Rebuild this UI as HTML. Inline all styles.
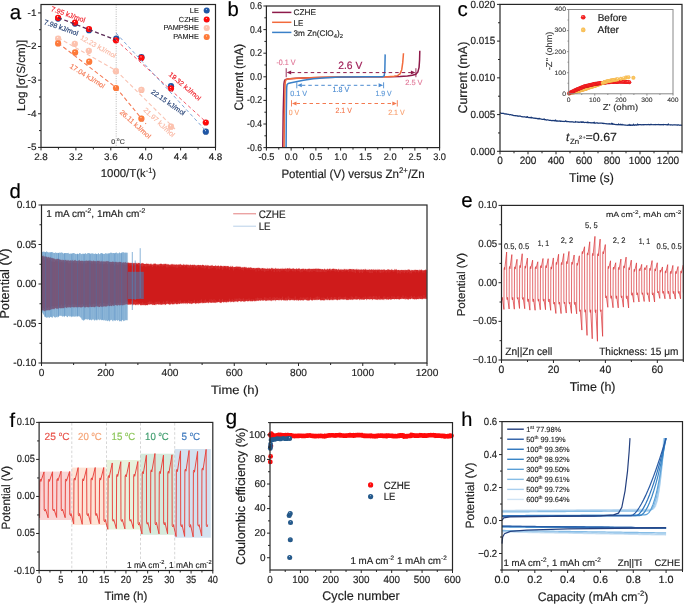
<!DOCTYPE html>
<html><head><meta charset="utf-8"><title>Figure</title>
<style>html,body{margin:0;padding:0;background:#fff;}body{width:685px;height:604px;overflow:hidden;font-family:"Liberation Sans", sans-serif;}svg{display:block;will-change:transform;text-rendering:geometricPrecision;}</style>
</head><body>
<svg width="685" height="604" viewBox="0 0 685 604" text-rendering="geometricPrecision" font-family='"Liberation Sans", sans-serif'><defs>
<radialGradient id="sR" cx="0.5" cy="0.5" r="0.55" fx="0.42" fy="0.3"><stop offset="0" stop-color="#ffe0e0"/><stop offset="0.28" stop-color="#ff0a0a"/><stop offset="0.8" stop-color="#ff0a0a"/><stop offset="1" stop-color="#c80010"/></radialGradient>
<radialGradient id="sB" cx="0.5" cy="0.5" r="0.55" fx="0.42" fy="0.3"><stop offset="0" stop-color="#d0e0f4"/><stop offset="0.28" stop-color="#1f56a6"/><stop offset="0.8" stop-color="#1f56a6"/><stop offset="1" stop-color="#103a78"/></radialGradient>
<radialGradient id="sL" cx="0.5" cy="0.5" r="0.55" fx="0.42" fy="0.3"><stop offset="0" stop-color="#fff4f0"/><stop offset="0.28" stop-color="#fdc2ae"/><stop offset="0.8" stop-color="#fdc2ae"/><stop offset="1" stop-color="#f4a890"/></radialGradient>
<radialGradient id="sO" cx="0.5" cy="0.5" r="0.55" fx="0.42" fy="0.3"><stop offset="0" stop-color="#ffe8d8"/><stop offset="0.28" stop-color="#ff7a38"/><stop offset="0.8" stop-color="#ff7a38"/><stop offset="1" stop-color="#e85a1a"/></radialGradient>
<radialGradient id="sY" cx="0.5" cy="0.5" r="0.55" fx="0.42" fy="0.3"><stop offset="0" stop-color="#fff2d0"/><stop offset="0.28" stop-color="#f9c25a"/><stop offset="0.8" stop-color="#f9c25a"/><stop offset="1" stop-color="#eaa030"/></radialGradient>
<radialGradient id="sR2" cx="0.5" cy="0.5" r="0.55" fx="0.42" fy="0.3"><stop offset="0" stop-color="#ffc8c8"/><stop offset="0.28" stop-color="#f42020"/><stop offset="0.8" stop-color="#f42020"/><stop offset="1" stop-color="#c80010"/></radialGradient>
<radialGradient id="sG" cx="0.5" cy="0.5" r="0.55" fx="0.42" fy="0.3"><stop offset="0" stop-color="#d0e0f0"/><stop offset="0.28" stop-color="#245a8c"/><stop offset="0.8" stop-color="#245a8c"/><stop offset="1" stop-color="#143c66"/></radialGradient>
</defs>
<text x="9.68" y="18.5" font-size="20.5" text-anchor="start" fill="#000" stroke="#000" stroke-width="0.18" stroke-linejoin="round" >a</text>
<line x1="116.2" y1="4.5" x2="116.2" y2="147.4" stroke="#b0b0b0" stroke-width="0.9" stroke-dasharray="1,1.3"/>
<text x="111.23" y="143.5" font-size="6.8" text-anchor="start" fill="#333" textLength="13.54" lengthAdjust="spacingAndGlyphs" stroke="#333" stroke-width="0.12" stroke-linejoin="round" >0 <tspan dy="-2.5" font-size="4.5">o</tspan><tspan dy="2.5">C</tspan></text>
<circle cx="58.1" cy="38.5" r="3.1" fill="url(#sL)"/>
<circle cx="74.8" cy="43.8" r="3.1" fill="url(#sL)"/>
<circle cx="88.8" cy="50.8" r="3.1" fill="url(#sL)"/>
<circle cx="115.9" cy="71.2" r="3.1" fill="url(#sL)"/>
<circle cx="141.4" cy="89.9" r="3.1" fill="url(#sL)"/>
<circle cx="171" cy="126.7" r="3.1" fill="url(#sL)"/>
<circle cx="58.1" cy="43.4" r="3.1" fill="url(#sO)"/>
<circle cx="75.1" cy="52.4" r="3.1" fill="url(#sO)"/>
<circle cx="89.2" cy="61.7" r="3.1" fill="url(#sO)"/>
<circle cx="116" cy="88" r="3.1" fill="url(#sO)"/>
<circle cx="141.4" cy="118.7" r="3.1" fill="url(#sO)"/>
<circle cx="58.1" cy="18.6" r="3.1" fill="url(#sB)"/>
<circle cx="75" cy="23.6" r="3.1" fill="url(#sB)"/>
<circle cx="89" cy="30.2" r="3.1" fill="url(#sB)"/>
<circle cx="116.3" cy="38.6" r="3.1" fill="url(#sB)"/>
<circle cx="141.4" cy="57.2" r="3.1" fill="url(#sB)"/>
<circle cx="171" cy="86.2" r="3.1" fill="url(#sB)"/>
<circle cx="205.8" cy="131.7" r="3.1" fill="url(#sB)"/>
<circle cx="58.1" cy="17.8" r="3.1" fill="url(#sR)"/>
<circle cx="75" cy="22.6" r="3.1" fill="url(#sR)"/>
<circle cx="89" cy="29" r="3.1" fill="url(#sR)"/>
<circle cx="115.9" cy="40.3" r="3.1" fill="url(#sR)"/>
<circle cx="141.4" cy="57.9" r="3.1" fill="url(#sR)"/>
<circle cx="171" cy="88.4" r="3.1" fill="url(#sR)"/>
<circle cx="205.8" cy="122.5" r="3.1" fill="url(#sR)"/>
<line x1="58.1" y1="37.8" x2="116" y2="70.5" stroke="#f9c3b3" stroke-width="1.1" stroke-dasharray="4,2.6"/>
<line x1="116" y1="70.5" x2="175" y2="129" stroke="#f9c3b3" stroke-width="1.1" stroke-dasharray="4,2.6"/>
<line x1="58.1" y1="43" x2="116" y2="87.5" stroke="#f47a55" stroke-width="1.1" stroke-dasharray="4,2.6"/>
<line x1="116" y1="87.5" x2="146" y2="124" stroke="#f47a55" stroke-width="1.1" stroke-dasharray="4,2.6"/>
<line x1="58.1" y1="17.6" x2="116" y2="40" stroke="#5a2a55" stroke-width="1.3" stroke-dasharray="4,2.6"/>
<line x1="116" y1="40" x2="206" y2="122" stroke="#f25868" stroke-width="1.0" stroke-dasharray="3.5,2.6"/>
<line x1="116" y1="33" x2="206" y2="131" stroke="#7ea4d6" stroke-width="1.0" stroke-dasharray="3.5,2.6"/>
<text x="50.5" y="10.7" font-size="7.0" fill="#f0202a" stroke="#f0202a" stroke-width="0.15" stroke-linejoin="round" transform="rotate(19.6 50.5 10.7)">7.95 kJ/mol</text>
<text x="43.5" y="23.9" font-size="7.0" fill="#1f3c72" stroke="#1f3c72" stroke-width="0.15" stroke-linejoin="round" transform="rotate(19.6 43.5 23.9)">7.98 kJ/mol</text>
<text x="79.7" y="39.1" font-size="7.0" fill="#f9b8a4" stroke="#f9b8a4" stroke-width="0.15" stroke-linejoin="round" transform="rotate(28.9 79.7 39.1)">12.23 kJ/mol</text>
<text x="69.3" y="67.5" font-size="7.0" fill="#f47a55" stroke="#f47a55" stroke-width="0.15" stroke-linejoin="round" transform="rotate(32 69.3 67.5)">17.04 kJ/mol</text>
<text x="168.2" y="75.3" font-size="7.0" fill="#f0202a" stroke="#f0202a" stroke-width="0.15" stroke-linejoin="round" transform="rotate(40.2 168.2 75.3)">19.32 kJ/mol</text>
<text x="150.6" y="93" font-size="7.0" fill="#1f3c72" stroke="#1f3c72" stroke-width="0.15" stroke-linejoin="round" transform="rotate(35 150.6 93)">22.15 kJ/mol</text>
<text x="119.2" y="112.9" font-size="7.0" fill="#f47a55" stroke="#f47a55" stroke-width="0.15" stroke-linejoin="round" transform="rotate(41.7 119.2 112.9)">26.11 kJ/mol</text>
<text x="143" y="110.6" font-size="7.0" fill="#f9b8a4" stroke="#f9b8a4" stroke-width="0.15" stroke-linejoin="round" transform="rotate(42.8 143 110.6)">21.97 kJ/mol</text>
<text x="198.8" y="13.3" font-size="7.3" text-anchor="end" fill="#1e1e1e" textLength="8.96" lengthAdjust="spacingAndGlyphs" stroke="#1e1e1e" stroke-width="0.13" stroke-linejoin="round" >LE</text>
<circle cx="206.7" cy="10.5" r="3.0" fill="url(#sB)"/>
<text x="198.8" y="21.9" font-size="7.3" text-anchor="end" fill="#1e1e1e" textLength="19.95" lengthAdjust="spacingAndGlyphs" stroke="#1e1e1e" stroke-width="0.13" stroke-linejoin="round" >CZHE</text>
<circle cx="206.7" cy="19.4" r="3.0" fill="url(#sR)"/>
<text x="198.8" y="30.2" font-size="7.3" text-anchor="end" fill="#1e1e1e" textLength="35.29" lengthAdjust="spacingAndGlyphs" stroke="#1e1e1e" stroke-width="0.13" stroke-linejoin="round" >PAMPSHE</text>
<circle cx="206.7" cy="28.1" r="3.0" fill="url(#sL)"/>
<text x="198.8" y="38.8" font-size="7.3" text-anchor="end" fill="#1e1e1e" textLength="25.51" lengthAdjust="spacingAndGlyphs" stroke="#1e1e1e" stroke-width="0.13" stroke-linejoin="round" >PAMHE</text>
<circle cx="206.7" cy="37" r="3.0" fill="url(#sO)"/>
<rect x="41" y="4.5" width="174.5" height="142.9" fill="none" stroke="#262626" stroke-width="1.2"/>
<path d="M41 147.4v3M75.9 147.4v3M110.8 147.4v3M145.7 147.4v3M180.6 147.4v3M215.5 147.4v3M58.45 147.4v2M93.35 147.4v2M128.25 147.4v2M163.15 147.4v2M198.05 147.4v2" stroke="#262626" stroke-width="1.0" fill="none"/>
<text x="41" y="159.6" font-size="9.7" text-anchor="middle" fill="#1e1e1e" textLength="13.69" lengthAdjust="spacingAndGlyphs" stroke="#1e1e1e" stroke-width="0.17" stroke-linejoin="round" >2.8</text>
<text x="75.9" y="159.6" font-size="9.7" text-anchor="middle" fill="#1e1e1e" textLength="13.69" lengthAdjust="spacingAndGlyphs" stroke="#1e1e1e" stroke-width="0.17" stroke-linejoin="round" >3.2</text>
<text x="110.8" y="159.6" font-size="9.7" text-anchor="middle" fill="#1e1e1e" textLength="13.69" lengthAdjust="spacingAndGlyphs" stroke="#1e1e1e" stroke-width="0.17" stroke-linejoin="round" >3.6</text>
<text x="145.7" y="159.6" font-size="9.7" text-anchor="middle" fill="#1e1e1e" textLength="13.69" lengthAdjust="spacingAndGlyphs" stroke="#1e1e1e" stroke-width="0.17" stroke-linejoin="round" >4.0</text>
<text x="180.6" y="159.6" font-size="9.7" text-anchor="middle" fill="#1e1e1e" textLength="13.69" lengthAdjust="spacingAndGlyphs" stroke="#1e1e1e" stroke-width="0.17" stroke-linejoin="round" >4.4</text>
<text x="215.5" y="159.6" font-size="9.7" text-anchor="middle" fill="#1e1e1e" textLength="13.69" lengthAdjust="spacingAndGlyphs" stroke="#1e1e1e" stroke-width="0.17" stroke-linejoin="round" >4.8</text>
<path d="M41 12.91h-3M41 46.53h-3M41 80.15h-3M41 113.78h-3M41 147.4h-3M41 29.72h-2M41 63.34h-2M41 96.96h-2M41 130.59h-2" stroke="#262626" stroke-width="1.0" fill="none"/>
<text x="36.47" y="15.81" font-size="9.3" text-anchor="end" fill="#1e1e1e" textLength="8.84" lengthAdjust="spacingAndGlyphs" stroke="#1e1e1e" stroke-width="0.17" stroke-linejoin="round" >-1</text>
<text x="36.47" y="49.43" font-size="9.3" text-anchor="end" fill="#1e1e1e" textLength="8.84" lengthAdjust="spacingAndGlyphs" stroke="#1e1e1e" stroke-width="0.17" stroke-linejoin="round" >-2</text>
<text x="36.47" y="83.05" font-size="9.3" text-anchor="end" fill="#1e1e1e" textLength="8.84" lengthAdjust="spacingAndGlyphs" stroke="#1e1e1e" stroke-width="0.17" stroke-linejoin="round" >-3</text>
<text x="36.47" y="116.68" font-size="9.3" text-anchor="end" fill="#1e1e1e" textLength="8.84" lengthAdjust="spacingAndGlyphs" stroke="#1e1e1e" stroke-width="0.17" stroke-linejoin="round" >-4</text>
<text x="36.47" y="150.3" font-size="9.3" text-anchor="end" fill="#1e1e1e" textLength="8.84" lengthAdjust="spacingAndGlyphs" stroke="#1e1e1e" stroke-width="0.17" stroke-linejoin="round" >-5</text>
<text x="100.74" y="177.4" font-size="11.4" text-anchor="start" fill="#1e1e1e" textLength="55.43" lengthAdjust="spacingAndGlyphs" stroke="#1e1e1e" stroke-width="0.18" stroke-linejoin="round" >1000/T(k<tspan dy="-4.5" font-size="7.5">-1</tspan><tspan dy="4.5">)</tspan></text>
<text transform="translate(24.9,110.96) rotate(-90)" font-size="11.6" text-anchor="start" fill="#1e1e1e" textLength="70.84" lengthAdjust="spacingAndGlyphs" stroke="#1e1e1e" stroke-width="0.18" stroke-linejoin="round" >Log [σ(S/cm)]</text>
<text x="227.58" y="16.4" font-size="20.3" text-anchor="start" fill="#000" stroke="#000" stroke-width="0.18" stroke-linejoin="round" >b</text>
<polyline points="282.78,147.6 283.23,112.2 283.97,83.88 284.46,80.93 285.2,79.75 287.68,78.92 296.09,78.33 310.94,77.63 335.68,77.15 365.37,76.8 390.11,76.68 400.01,76.45 407.43,75.97 412.38,75.27 415.85,74.2 417.83,72.08 419.06,67.36 419.56,60.28 419.81,50.84" fill="none" stroke="#8e1a4a" stroke-width="1.5" stroke-linejoin="round" />
<polyline points="284.07,147.6 284.46,112.2 285.11,83.88 285.55,80.34 286.44,79.4 289.16,78.81 298.57,78.22 320.83,77.27 350.53,76.8 387.64,76.68 394.07,76.33 397.54,75.62 400.01,73.85 401.74,69.72 402.73,62.64 403.48,53.2" fill="none" stroke="#f26a3c" stroke-width="1.5" stroke-linejoin="round" />
<polyline points="286.1,147.6 286.34,112.2 286.69,87.42 287.09,84.47 288.17,83.53 291.14,82.7 296.09,81.76 303.51,80.34 313.41,78.69 325.78,77.63 340.63,77.04 365.37,76.8 382.69,76.68 384.18,75.86 384.82,70.9 385.17,54.38" fill="none" stroke="#3a80c8" stroke-width="1.5" stroke-linejoin="round" />
<line x1="291.2" y1="72.6" x2="410.9" y2="72.6" stroke="#8e1a4a" stroke-width="1" stroke-dasharray="3.5,3"/>
<line x1="286.2" y1="68.2" x2="286.2" y2="77.2" stroke="#8e1a4a" stroke-width="0.9"/>
<path d="M286.7 72.6 l4.5 -2 v4z" fill="#8e1a4a"/>
<line x1="415.9" y1="68.2" x2="415.9" y2="77.2" stroke="#8e1a4a" stroke-width="0.9"/>
<path d="M415.4 72.6 l-4.5 -2 v4z" fill="#8e1a4a"/>
<line x1="301.8" y1="85.3" x2="378.6" y2="85.3" stroke="#4a8ad0" stroke-width="1" stroke-dasharray="3.5,3"/>
<line x1="296.8" y1="82.3" x2="296.8" y2="88.3" stroke="#4a8ad0" stroke-width="0.9"/>
<path d="M297.3 85.3 l4.5 -2 v4z" fill="#4a8ad0"/>
<line x1="383.6" y1="82.3" x2="383.6" y2="88.3" stroke="#4a8ad0" stroke-width="0.9"/>
<path d="M383.1 85.3 l-4.5 -2 v4z" fill="#4a8ad0"/>
<line x1="296.5" y1="103.5" x2="392.3" y2="103.5" stroke="#f47a50" stroke-width="1" stroke-dasharray="3.5,3"/>
<line x1="291.5" y1="100.2" x2="291.5" y2="106.5" stroke="#f47a50" stroke-width="0.9"/>
<path d="M292 103.5 l4.5 -2 v4z" fill="#f47a50"/>
<line x1="397.3" y1="100.2" x2="397.3" y2="106.5" stroke="#f47a50" stroke-width="0.9"/>
<path d="M396.8 103.5 l-4.5 -2 v4z" fill="#f47a50"/>
<text x="276.49" y="65.2" font-size="7.8" text-anchor="start" fill="#e07898" textLength="18.9" lengthAdjust="spacingAndGlyphs" stroke="#e07898" stroke-width="0.14" stroke-linejoin="round" >-0.1 V</text>
<text x="338.28" y="69.4" font-size="10.6" text-anchor="start" fill="#a02058" textLength="24.08" lengthAdjust="spacingAndGlyphs" stroke="#a02058" stroke-width="0.18" stroke-linejoin="round" >2.6 V</text>
<text x="405.2" y="84.6" font-size="7.6" text-anchor="start" fill="#e07898" textLength="17.39" lengthAdjust="spacingAndGlyphs" stroke="#e07898" stroke-width="0.14" stroke-linejoin="round" >2.5 V</text>
<text x="290.3" y="96.1" font-size="7.6" text-anchor="start" fill="#5a96d6" textLength="16.89" lengthAdjust="spacingAndGlyphs" stroke="#5a96d6" stroke-width="0.14" stroke-linejoin="round" >0.1 V</text>
<text x="332.5" y="92.4" font-size="7.6" text-anchor="start" fill="#4a8ad0" textLength="16.69" lengthAdjust="spacingAndGlyphs" stroke="#4a8ad0" stroke-width="0.14" stroke-linejoin="round" >1.8 V</text>
<text x="375.4" y="96.2" font-size="7.6" text-anchor="start" fill="#5a96d6" textLength="16.19" lengthAdjust="spacingAndGlyphs" stroke="#5a96d6" stroke-width="0.14" stroke-linejoin="round" >1.9 V</text>
<text x="288.7" y="114.8" font-size="7.6" text-anchor="start" fill="#f8a070" textLength="10.39" lengthAdjust="spacingAndGlyphs" stroke="#f8a070" stroke-width="0.14" stroke-linejoin="round" >0 V</text>
<text x="335.5" y="113.1" font-size="7.6" text-anchor="start" fill="#f47a50" textLength="16.29" lengthAdjust="spacingAndGlyphs" stroke="#f47a50" stroke-width="0.14" stroke-linejoin="round" >2.1 V</text>
<text x="388.2" y="114.8" font-size="7.6" text-anchor="start" fill="#f8a070" textLength="16.49" lengthAdjust="spacingAndGlyphs" stroke="#f8a070" stroke-width="0.14" stroke-linejoin="round" >2.1 V</text>
<line x1="272.1" y1="12.4" x2="291.4" y2="12.4" stroke="#8e1a4a" stroke-width="1.5"/>
<line x1="272.1" y1="22.3" x2="291.4" y2="22.3" stroke="#f26a3c" stroke-width="1.5"/>
<line x1="272.1" y1="32.4" x2="291.4" y2="32.4" stroke="#3a80c8" stroke-width="1.5"/>
<text x="293.57" y="15.3" font-size="8.2" text-anchor="start" fill="#1e1e1e" textLength="22.52" lengthAdjust="spacingAndGlyphs" stroke="#1e1e1e" stroke-width="0.15" stroke-linejoin="round" >CZHE</text>
<text x="293.57" y="25.6" font-size="8.2" text-anchor="start" fill="#1e1e1e" textLength="9.82" lengthAdjust="spacingAndGlyphs" stroke="#1e1e1e" stroke-width="0.15" stroke-linejoin="round" >LE</text>
<text x="293.57" y="35.5" font-size="8.2" text-anchor="start" fill="#1e1e1e" textLength="49.32" lengthAdjust="spacingAndGlyphs" stroke="#1e1e1e" stroke-width="0.15" stroke-linejoin="round" >3m Zn(ClO<tspan dy="2" font-size="5.8">4</tspan><tspan dy="-2">)</tspan><tspan dy="2" font-size="5.8">2</tspan></text>
<rect x="266.4" y="6" width="173.2" height="141.6" fill="none" stroke="#262626" stroke-width="1.2"/>
<path d="M266.4 147.6v3M291.14 147.6v3M315.89 147.6v3M340.63 147.6v3M365.37 147.6v3M390.11 147.6v3M414.86 147.6v3M439.6 147.6v3M278.77 147.6v2M303.51 147.6v2M328.26 147.6v2M353 147.6v2M377.74 147.6v2M402.49 147.6v2M427.23 147.6v2" stroke="#262626" stroke-width="1.0" fill="none"/>
<text x="266.4" y="160" font-size="9.7" text-anchor="middle" fill="#1e1e1e" textLength="15.91" lengthAdjust="spacingAndGlyphs" stroke="#1e1e1e" stroke-width="0.17" stroke-linejoin="round" >-0.5</text>
<text x="291.14" y="160" font-size="9.7" text-anchor="middle" fill="#1e1e1e" textLength="12.84" lengthAdjust="spacingAndGlyphs" stroke="#1e1e1e" stroke-width="0.17" stroke-linejoin="round" >0.0</text>
<text x="315.89" y="160" font-size="9.7" text-anchor="middle" fill="#1e1e1e" textLength="12.84" lengthAdjust="spacingAndGlyphs" stroke="#1e1e1e" stroke-width="0.17" stroke-linejoin="round" >0.5</text>
<text x="340.63" y="160" font-size="9.7" text-anchor="middle" fill="#1e1e1e" textLength="12.84" lengthAdjust="spacingAndGlyphs" stroke="#1e1e1e" stroke-width="0.17" stroke-linejoin="round" >1.0</text>
<text x="365.37" y="160" font-size="9.7" text-anchor="middle" fill="#1e1e1e" textLength="12.84" lengthAdjust="spacingAndGlyphs" stroke="#1e1e1e" stroke-width="0.17" stroke-linejoin="round" >1.5</text>
<text x="390.11" y="160" font-size="9.7" text-anchor="middle" fill="#1e1e1e" textLength="12.84" lengthAdjust="spacingAndGlyphs" stroke="#1e1e1e" stroke-width="0.17" stroke-linejoin="round" >2.0</text>
<text x="414.86" y="160" font-size="9.7" text-anchor="middle" fill="#1e1e1e" textLength="12.84" lengthAdjust="spacingAndGlyphs" stroke="#1e1e1e" stroke-width="0.17" stroke-linejoin="round" >2.5</text>
<text x="439.6" y="160" font-size="9.7" text-anchor="middle" fill="#1e1e1e" textLength="12.84" lengthAdjust="spacingAndGlyphs" stroke="#1e1e1e" stroke-width="0.17" stroke-linejoin="round" >3.0</text>
<path d="M266.4 147.6h-3M266.4 124h-3M266.4 100.4h-3M266.4 76.8h-3M266.4 53.2h-3M266.4 29.6h-3M266.4 6h-3M266.4 135.8h-2M266.4 112.2h-2M266.4 88.6h-2M266.4 65h-2M266.4 41.4h-2M266.4 17.8h-2" stroke="#262626" stroke-width="1.0" fill="none"/>
<text x="262" y="150.6" font-size="10" text-anchor="end" fill="#1e1e1e" textLength="15.01" lengthAdjust="spacingAndGlyphs" stroke="#1e1e1e" stroke-width="0.18" stroke-linejoin="round" >-0.6</text>
<text x="262" y="127" font-size="10" text-anchor="end" fill="#1e1e1e" textLength="15.01" lengthAdjust="spacingAndGlyphs" stroke="#1e1e1e" stroke-width="0.18" stroke-linejoin="round" >-0.4</text>
<text x="262" y="103.4" font-size="10" text-anchor="end" fill="#1e1e1e" textLength="15.01" lengthAdjust="spacingAndGlyphs" stroke="#1e1e1e" stroke-width="0.18" stroke-linejoin="round" >-0.2</text>
<text x="262" y="79.8" font-size="10" text-anchor="end" fill="#1e1e1e" textLength="12.11" lengthAdjust="spacingAndGlyphs" stroke="#1e1e1e" stroke-width="0.18" stroke-linejoin="round" >0.0</text>
<text x="262" y="56.2" font-size="10" text-anchor="end" fill="#1e1e1e" textLength="12.11" lengthAdjust="spacingAndGlyphs" stroke="#1e1e1e" stroke-width="0.18" stroke-linejoin="round" >0.2</text>
<text x="262" y="32.6" font-size="10" text-anchor="end" fill="#1e1e1e" textLength="12.11" lengthAdjust="spacingAndGlyphs" stroke="#1e1e1e" stroke-width="0.18" stroke-linejoin="round" >0.4</text>
<text x="262" y="9" font-size="10" text-anchor="end" fill="#1e1e1e" textLength="12.11" lengthAdjust="spacingAndGlyphs" stroke="#1e1e1e" stroke-width="0.18" stroke-linejoin="round" >0.6</text>
<text x="281.42" y="177.9" font-size="12.1" text-anchor="start" fill="#1e1e1e" textLength="143.17" lengthAdjust="spacingAndGlyphs" stroke="#1e1e1e" stroke-width="0.18" stroke-linejoin="round" >Potential (V) versus Zn<tspan dy="-4.8" font-size="8.2">2+</tspan><tspan dy="4.8">/Zn</tspan></text>
<text transform="translate(242.9,110.6) rotate(-90)" font-size="12.4" text-anchor="start" fill="#1e1e1e" textLength="66.69" lengthAdjust="spacingAndGlyphs" stroke="#1e1e1e" stroke-width="0.18" stroke-linejoin="round" >Current (mA)</text>
<text x="457.38" y="16" font-size="20.5" text-anchor="start" fill="#000" stroke="#000" stroke-width="0.18" stroke-linejoin="round" >c</text>
<polyline points="500,112.96 500.35,112.88 500.7,113 501.05,113.27 501.4,113.35 501.75,113.4 502.1,113.3 502.45,113.5 502.8,113.34 503.15,113.43 503.5,113.32 503.85,113.43 504.2,113.81 504.55,113.81 504.9,113.93 505.25,113.79 505.6,113.89 505.95,114.17 506.3,113.96 506.65,114.19 507,114.19 507.35,114.11 507.7,114.41 508.05,114.35 508.4,114.33 508.75,114.28 509.1,114.59 509.45,114.77 509.8,114.89 510.15,114.63 510.5,114.65 510.85,114.79 511.2,114.91 511.55,114.86 511.9,115.08 512.25,115.33 512.6,115.13 512.95,115.12 513.3,115.38 513.65,115.6 514,115.6 514.35,115.7 514.7,115.72 515.05,115.65 515.4,115.83 515.75,115.67 516.1,115.6 516.45,115.89 516.8,115.9 517.15,115.68 517.5,116.08 517.85,116.1 518.2,115.99 518.55,116.3 518.9,116.18 519.25,115.97 519.6,116.21 519.95,116.19 520.3,116.14 520.65,116.2 521,116.46 521.35,116.63 521.7,116.7 522.05,116.68 522.4,116.67 522.75,116.87 523.1,116.87 523.45,116.95 523.8,116.74 524.15,116.95 524.5,116.95 524.85,116.78 525.2,117 525.55,117.21 525.9,117.15 526.25,116.98 526.6,117.39 526.95,117.21 527.3,116.52 527.65,117.31 528,117.21 528.35,117.52 528.7,117.6 529.05,117.49 529.4,117.62 529.75,117.45 530.1,117.48 530.45,117.54 530.8,117.85 531.15,117.1 531.5,118.02 531.85,117.97 532.2,117.7 532.55,117.76 532.9,117.79 533.25,118.16 533.6,118.22 533.95,118.07 534.3,118.02 534.65,118.15 535,118.45 535.35,118.13 535.7,118.24 536.05,118.54 536.4,118.52 536.75,118.28 537.1,118.58 537.45,118.48 537.8,118.79 538.15,118.49 538.5,118.87 538.85,118.55 539.2,118.87 539.55,118.28 539.9,118.68 540.25,118.93 540.6,119.01 540.95,118.89 541.3,119.2 541.65,119.25 542,119.3 542.35,119.4 542.7,119.36 543.05,119.31 543.4,119.43 543.75,119.45 544.1,118.76 544.45,119.58 544.8,119.83 545.15,119.8 545.5,119.61 545.85,119.84 546.2,119.79 546.55,120.04 546.9,120.03 547.25,119.85 547.6,120 547.95,119.89 548.3,120.08 548.65,120.17 549,120.25 549.35,120.29 549.7,120.25 550.05,120.19 550.4,120.38 550.75,120.28 551.1,120.62 551.45,120.67 551.8,120.69 552.15,120.4 552.5,120.71 552.85,120.51 553.2,120.43 553.55,120.75 553.9,120.7 554.25,120.46 554.6,120.85 554.95,120.72 555.3,120.88 555.65,119.94 556,120.77 556.35,121.03 556.7,120.79 557.05,121.06 557.4,120.77 557.75,121.09 558.1,121.15 558.45,121.07 558.8,121.03 559.15,120.88 559.5,121.2 559.85,121.03 560.2,121.27 560.55,121.03 560.9,121.33 561.25,121.1 561.6,121.37 561.95,121.4 562.3,121.26 562.65,121.24 563,121.39 563.35,121.3 563.7,121.51 564.05,121.56 564.4,121.47 564.75,121.29 565.1,121.43 565.45,120.79 565.8,120.86 566.15,121.4 566.5,121.67 566.85,121.36 567.2,121.44 567.55,121.6 567.9,121.67 568.25,121.57 568.6,121.74 568.95,121.61 569.3,121.77 569.65,121.95 570,121.96 570.35,121.9 570.7,121.99 571.05,121.66 571.4,121.93 571.75,121.95 572.1,122.02 572.45,121.99 572.8,121.7 573.15,122.03 573.5,122.02 573.85,122.17 574.2,121.98 574.55,122.12 574.9,122.22 575.25,122.2 575.6,121.5 575.95,122.14 576.3,122.03 576.65,121.97 577,122 577.35,122.16 577.7,121.92 578.05,122.05 578.4,122.37 578.75,122.01 579.1,122.09 579.45,122.37 579.8,122.23 580.15,122.11 580.5,122.23 580.85,122.2 581.2,121.68 581.55,122.47 581.9,122.5 582.25,122.32 582.6,122.3 582.95,121.65 583.3,122.26 583.65,122.41 584,122.36 584.35,122.34 584.7,122.65 585.05,122.37 585.4,122.38 585.75,122.51 586.1,122.53 586.45,122.42 586.8,122.49 587.15,122.73 587.5,122.48 587.85,121.84 588.2,122.81 588.55,122.56 588.9,122.58 589.25,122.66 589.6,122.7 589.95,122.53 590.3,122.51 590.65,122.95 591,122.61 591.35,122.79 591.7,122.91 592.05,122.93 592.4,122.97 592.75,122.63 593.1,122.71 593.45,122.69 593.8,123 594.15,122.17 594.5,123.13 594.85,122.95 595.2,123.11 595.55,123.04 595.9,123.2 596.25,122.85 596.6,122.82 596.95,122.85 597.3,123.1 597.65,122.84 598,123.14 598.35,123.19 598.7,123.29 599.05,123.22 599.4,123.25 599.75,123.15 600.1,123.24 600.45,123.04 600.8,123.18 601.15,123.07 601.5,123.2 601.85,123.22 602.2,123.24 602.55,123.47 602.9,123.22 603.25,123.45 603.6,123.55 603.95,123.28 604.3,123.45 604.65,123.52 605,123.72 605.35,123.73 605.7,123.63 606.05,123.48 606.4,123.71 606.75,123.85 607.1,123.82 607.45,123.89 607.8,123.77 608.15,123.72 608.5,123.9 608.85,123.94 609.2,124.11 609.55,123.74 609.9,123.97 610.25,123.84 610.6,124.13 610.95,124.1 611.3,123.89 611.65,123.22 612,124.35 612.35,124 612.7,123.43 613.05,124.28 613.4,124.11 613.75,124.08 614.1,124.49 614.45,124.33 614.8,124.18 615.15,124.33 615.5,124.45 615.85,124.66 616.2,124.6 616.55,124.45 616.9,124.7 617.25,124.51 617.6,124.77 617.95,124.62 618.3,124.7 618.65,123.9 619,124.8 619.35,124.53 619.7,124.58 620.05,124.88 620.4,124.58 620.75,124.15 621.1,124.82 621.45,124.88 621.8,124.79 622.15,124.26 622.5,124.97 622.85,124.84 623.2,124.8 623.55,124.95 623.9,124.76 624.25,124.85 624.6,125.13 624.95,125.12 625.3,125.05 625.65,125.19 626,125.01 626.35,125.26 626.7,125.25 627.05,125.3 627.4,125.35 627.75,125 628.1,125.09 628.45,125.02 628.8,125.37 629.15,124.41 629.5,125.2 629.85,125.34 630.2,124.7 630.55,125.37 630.9,125.05 631.25,125.02 631.6,125.27 631.95,125.05 632.3,125.36 632.65,125.2 633,125.26 633.35,124.19 633.7,125.12 634.05,124.95 634.4,125.25 634.75,124.84 635.1,124.89 635.45,125.05 635.8,124.76 636.15,125.04 636.5,125 636.85,125.12 637.2,124.69 637.55,123.93 637.9,124.95 638.25,124.61 638.6,124.84 638.95,124.8 639.3,124.56 639.65,124.6 640,124.57 640.35,124.66 640.7,124.79 641.05,124.58 641.4,124.83 641.75,124.81 642.1,124.9 642.45,124.77 642.8,124.52 643.15,124.79 643.5,124.86 643.85,124.59 644.2,124.8 644.55,124.62 644.9,124.57 645.25,124.6 645.6,124.52 645.95,124.64 646.3,124.56 646.65,124.77 647,124.81 647.35,124.62 647.7,124.7 648.05,124.65 648.4,124.51 648.75,124.43 649.1,124.66 649.45,124.49 649.8,124.84 650.15,124.8 650.5,124.43 650.85,124.44 651.2,124.47 651.55,124.73 651.9,124.43 652.25,124.58 652.6,124.74 652.95,124.77 653.3,124.72 653.65,124.54 654,124.82 654.35,124.53 654.7,124.69 655.05,124.47 655.4,124.79 655.75,124.64 656.1,124.53 656.45,124.74 656.8,124.63 657.15,124.67 657.5,124.67 657.85,124.64 658.2,124.42 658.55,124.64 658.9,124.47 659.25,124.79 659.6,124.6 659.95,124.61 660.3,124.59 660.65,124.79 661,124.53 661.35,124.78 661.7,124.67 662.05,124.77 662.4,124.62 662.75,124.81 663.1,124.51 663.45,124.79 663.8,124.47 664.15,124.68 664.5,124.5 664.85,124.52 665.2,124.56 665.55,124.59 665.9,124.76 666.25,124.59 666.6,124.86 666.95,124.74 667.3,124.92 667.65,124.67 668,124.98 668.35,123.94 668.7,124.65 669.05,124.76 669.4,124.76 669.75,124.86 670.1,124.87 670.45,124.87 670.8,125.06 671.15,124.87 671.5,124.75 671.85,124.9 672.2,124.9 672.55,125.06 672.9,125.09 673.25,124.91 673.6,124.87 673.95,124.83 674.3,124.94 674.65,124.95 675,124.77 675.35,124.82 675.7,124.88 676.05,125.13 676.4,125.01 676.75,124.83 677.1,124.89 677.45,125.22 677.8,124.93 678.15,124.87 678.5,124.92 678.85,125.07 679.2,125.21 679.55,125.08 679.9,125.3 680.25,125.25 680.6,125.04 680.95,125.27 681.3,125.3 681.65,125.08 682,124.99" fill="none" stroke="#1a3a78" stroke-width="1.2" stroke-linejoin="round" />
<text x="566" y="141.4" font-size="11.7" text-anchor="start" fill="#1e1e1e" stroke="#1e1e1e" stroke-width="0.18" stroke-linejoin="round" ><tspan font-style="italic">t</tspan></text>
<text x="569.9" y="144.4" font-size="7.6" text-anchor="start" fill="#1e1e1e" textLength="9.19" lengthAdjust="spacingAndGlyphs" stroke="#1e1e1e" stroke-width="0.14" stroke-linejoin="round" >Zn</text>
<text x="578.71" y="138.8" font-size="4.8" text-anchor="start" fill="#1e1e1e" textLength="7.41" lengthAdjust="spacingAndGlyphs" stroke="#1e1e1e" stroke-width="0.09" stroke-linejoin="round" >2+</text>
<text x="585.53" y="141.4" font-size="11.7" text-anchor="start" fill="#1e1e1e" textLength="31.45" lengthAdjust="spacingAndGlyphs" stroke="#1e1e1e" stroke-width="0.18" stroke-linejoin="round" >=0.67</text>
<rect x="568.7" y="9.5" width="104.3" height="84.3" fill="#fff"/>
<circle cx="569.22" cy="93.59" r="2.0" fill="url(#sY)"/>
<circle cx="570.06" cy="93.35" r="2.0" fill="url(#sY)"/>
<circle cx="570.89" cy="93.1" r="2.0" fill="url(#sY)"/>
<circle cx="571.72" cy="92.86" r="2.0" fill="url(#sY)"/>
<circle cx="572.56" cy="92.62" r="2.0" fill="url(#sY)"/>
<circle cx="573.39" cy="92.38" r="2.0" fill="url(#sY)"/>
<circle cx="574.23" cy="92.13" r="2.0" fill="url(#sY)"/>
<circle cx="575.06" cy="91.89" r="2.0" fill="url(#sY)"/>
<circle cx="575.9" cy="91.65" r="2.0" fill="url(#sY)"/>
<circle cx="576.73" cy="91.4" r="2.0" fill="url(#sY)"/>
<circle cx="577.57" cy="91.16" r="2.0" fill="url(#sY)"/>
<circle cx="578.4" cy="90.91" r="2.0" fill="url(#sY)"/>
<circle cx="579.23" cy="90.67" r="2.0" fill="url(#sY)"/>
<circle cx="580.07" cy="90.42" r="2.0" fill="url(#sY)"/>
<circle cx="580.9" cy="90.18" r="2.0" fill="url(#sY)"/>
<circle cx="581.74" cy="89.93" r="2.0" fill="url(#sY)"/>
<circle cx="582.57" cy="89.68" r="2.0" fill="url(#sY)"/>
<circle cx="583.41" cy="89.44" r="2.0" fill="url(#sY)"/>
<circle cx="584.24" cy="89.19" r="2.0" fill="url(#sY)"/>
<circle cx="585.08" cy="88.93" r="2.0" fill="url(#sY)"/>
<circle cx="585.91" cy="88.66" r="2.0" fill="url(#sY)"/>
<circle cx="586.74" cy="88.39" r="2.0" fill="url(#sY)"/>
<circle cx="587.58" cy="88.12" r="2.0" fill="url(#sY)"/>
<circle cx="588.41" cy="87.85" r="2.0" fill="url(#sY)"/>
<circle cx="589.25" cy="87.58" r="2.0" fill="url(#sY)"/>
<circle cx="590.08" cy="87.31" r="2.0" fill="url(#sY)"/>
<circle cx="590.92" cy="87.04" r="2.0" fill="url(#sY)"/>
<circle cx="591.75" cy="86.77" r="2.0" fill="url(#sY)"/>
<circle cx="592.58" cy="86.5" r="2.0" fill="url(#sY)"/>
<circle cx="593.42" cy="86.23" r="2.0" fill="url(#sY)"/>
<circle cx="594.25" cy="85.96" r="2.0" fill="url(#sY)"/>
<circle cx="595.09" cy="85.68" r="2.0" fill="url(#sY)"/>
<circle cx="595.92" cy="85.38" r="2.0" fill="url(#sY)"/>
<circle cx="596.76" cy="85.09" r="2.0" fill="url(#sY)"/>
<circle cx="597.59" cy="84.79" r="2.0" fill="url(#sY)"/>
<circle cx="598.43" cy="84.49" r="2.0" fill="url(#sY)"/>
<circle cx="599.26" cy="84.2" r="2.0" fill="url(#sY)"/>
<circle cx="600.09" cy="83.9" r="2.0" fill="url(#sY)"/>
<circle cx="600.93" cy="83.6" r="2.0" fill="url(#sY)"/>
<circle cx="601.76" cy="83.31" r="2.0" fill="url(#sY)"/>
<circle cx="569.22" cy="93.17" r="2.0" fill="url(#sR2)"/>
<circle cx="570.06" cy="92.76" r="2.0" fill="url(#sR2)"/>
<circle cx="570.89" cy="92.36" r="2.0" fill="url(#sR2)"/>
<circle cx="571.72" cy="91.95" r="2.0" fill="url(#sR2)"/>
<circle cx="572.56" cy="91.55" r="2.0" fill="url(#sR2)"/>
<circle cx="573.39" cy="91.14" r="2.0" fill="url(#sR2)"/>
<circle cx="574.23" cy="90.74" r="2.0" fill="url(#sR2)"/>
<circle cx="575.06" cy="90.34" r="2.0" fill="url(#sR2)"/>
<circle cx="575.9" cy="89.94" r="2.0" fill="url(#sR2)"/>
<circle cx="576.73" cy="89.59" r="2.0" fill="url(#sR2)"/>
<circle cx="577.57" cy="89.25" r="2.0" fill="url(#sR2)"/>
<circle cx="578.4" cy="88.9" r="2.0" fill="url(#sR2)"/>
<circle cx="579.23" cy="88.55" r="2.0" fill="url(#sR2)"/>
<circle cx="580.07" cy="88.2" r="2.0" fill="url(#sR2)"/>
<circle cx="580.9" cy="87.86" r="2.0" fill="url(#sR2)"/>
<circle cx="581.74" cy="87.51" r="2.0" fill="url(#sR2)"/>
<circle cx="582.57" cy="87.16" r="2.0" fill="url(#sR2)"/>
<circle cx="583.41" cy="86.81" r="2.0" fill="url(#sR2)"/>
<circle cx="584.24" cy="86.47" r="2.0" fill="url(#sR2)"/>
<circle cx="585.08" cy="86.25" r="2.0" fill="url(#sR2)"/>
<circle cx="585.91" cy="86.04" r="2.0" fill="url(#sR2)"/>
<circle cx="586.74" cy="85.84" r="2.0" fill="url(#sR2)"/>
<circle cx="587.58" cy="85.64" r="2.0" fill="url(#sR2)"/>
<circle cx="588.41" cy="85.44" r="2.0" fill="url(#sR2)"/>
<circle cx="589.25" cy="85.24" r="2.0" fill="url(#sR2)"/>
<circle cx="590.08" cy="85.03" r="2.0" fill="url(#sR2)"/>
<circle cx="590.92" cy="84.83" r="2.0" fill="url(#sR2)"/>
<circle cx="591.75" cy="84.63" r="2.0" fill="url(#sR2)"/>
<circle cx="592.58" cy="84.43" r="2.0" fill="url(#sR2)"/>
<circle cx="593.42" cy="84.22" r="2.0" fill="url(#sR2)"/>
<circle cx="594.25" cy="84.02" r="2.0" fill="url(#sR2)"/>
<circle cx="595.09" cy="83.85" r="2.0" fill="url(#sR2)"/>
<circle cx="595.92" cy="83.75" r="2.0" fill="url(#sR2)"/>
<circle cx="596.76" cy="83.64" r="2.0" fill="url(#sR2)"/>
<circle cx="597.59" cy="83.53" r="2.0" fill="url(#sR2)"/>
<circle cx="598.43" cy="83.42" r="2.0" fill="url(#sR2)"/>
<circle cx="599.26" cy="83.31" r="2.0" fill="url(#sR2)"/>
<circle cx="600.09" cy="83.21" r="2.0" fill="url(#sR2)"/>
<circle cx="600.93" cy="83.1" r="2.0" fill="url(#sR2)"/>
<circle cx="601.76" cy="82.99" r="2.0" fill="url(#sR2)"/>
<circle cx="602.6" cy="82.88" r="2.0" fill="url(#sR2)"/>
<circle cx="603.43" cy="82.78" r="2.0" fill="url(#sR2)"/>
<circle cx="604.27" cy="82.67" r="2.0" fill="url(#sR2)"/>
<circle cx="605.1" cy="82.56" r="2.0" fill="url(#sR2)"/>
<circle cx="605.94" cy="82.45" r="2.0" fill="url(#sR2)"/>
<circle cx="606.77" cy="82.34" r="2.0" fill="url(#sR2)"/>
<circle cx="607.6" cy="82.24" r="2.0" fill="url(#sR2)"/>
<circle cx="608.44" cy="82.19" r="2.0" fill="url(#sR2)"/>
<circle cx="609.74" cy="82.15" r="2.0" fill="url(#sR2)"/>
<circle cx="611.05" cy="82.1" r="2.0" fill="url(#sR2)"/>
<circle cx="612.35" cy="82.06" r="2.0" fill="url(#sR2)"/>
<circle cx="613.65" cy="82.02" r="2.0" fill="url(#sR2)"/>
<circle cx="614.96" cy="81.98" r="2.0" fill="url(#sR2)"/>
<circle cx="616.26" cy="81.94" r="2.0" fill="url(#sR2)"/>
<circle cx="617.56" cy="81.89" r="2.0" fill="url(#sR2)"/>
<circle cx="618.87" cy="81.85" r="2.0" fill="url(#sR2)"/>
<circle cx="620.17" cy="81.81" r="2.0" fill="url(#sR2)"/>
<circle cx="621.48" cy="81.82" r="2.0" fill="url(#sR2)"/>
<circle cx="622.78" cy="81.87" r="2.0" fill="url(#sR2)"/>
<circle cx="624.08" cy="81.93" r="2.0" fill="url(#sR2)"/>
<circle cx="625.39" cy="81.99" r="2.0" fill="url(#sR2)"/>
<circle cx="626.69" cy="82.05" r="2.0" fill="url(#sR2)"/>
<circle cx="627.99" cy="82.11" r="2.0" fill="url(#sR2)"/>
<circle cx="629.3" cy="82.17" r="2.0" fill="url(#sR2)"/>
<circle cx="602.6" cy="83.01" r="2.0" fill="url(#sY)"/>
<circle cx="603.43" cy="82.71" r="2.0" fill="url(#sY)"/>
<circle cx="604.27" cy="82.42" r="2.0" fill="url(#sY)"/>
<circle cx="605.1" cy="82.12" r="2.0" fill="url(#sY)"/>
<circle cx="605.94" cy="81.82" r="2.0" fill="url(#sY)"/>
<circle cx="606.77" cy="81.53" r="2.0" fill="url(#sY)"/>
<circle cx="607.6" cy="81.23" r="2.0" fill="url(#sY)"/>
<circle cx="608.44" cy="81.04" r="2.0" fill="url(#sY)"/>
<circle cx="609.27" cy="80.88" r="2.0" fill="url(#sY)"/>
<circle cx="610.11" cy="80.72" r="2.0" fill="url(#sY)"/>
<circle cx="610.94" cy="80.57" r="2.0" fill="url(#sY)"/>
<circle cx="611.78" cy="80.41" r="2.0" fill="url(#sY)"/>
<circle cx="612.61" cy="80.25" r="2.0" fill="url(#sY)"/>
<circle cx="613.44" cy="80.1" r="2.0" fill="url(#sY)"/>
<circle cx="614.28" cy="79.94" r="2.0" fill="url(#sY)"/>
<circle cx="615.11" cy="79.78" r="2.0" fill="url(#sY)"/>
<circle cx="615.95" cy="79.63" r="2.0" fill="url(#sY)"/>
<circle cx="616.78" cy="79.47" r="2.0" fill="url(#sY)"/>
<circle cx="617.62" cy="79.31" r="2.0" fill="url(#sY)"/>
<circle cx="620.85" cy="78.84" r="2.0" fill="url(#sY)"/>
<circle cx="623.98" cy="78.2" r="2.0" fill="url(#sY)"/>
<circle cx="626.07" cy="77.57" r="2.0" fill="url(#sY)"/>
<circle cx="628.41" cy="77.36" r="2.0" fill="url(#sY)"/>
<circle cx="633.37" cy="77.78" r="2.0" fill="url(#sY)"/>
<rect x="568.7" y="9.5" width="104.3" height="84.3" fill="none" stroke="#888" stroke-width="1.0"/>
<path d="M568.7 93.8v1.8M594.78 93.8v1.8M620.85 93.8v1.8M646.92 93.8v1.8M673 93.8v1.8M581.74 93.8v1.2M607.81 93.8v1.2M633.89 93.8v1.2M659.96 93.8v1.2" stroke="#777" stroke-width="0.8" fill="none"/>
<text x="568.7" y="101.6" font-size="6.3" text-anchor="middle" fill="#333" textLength="3.78" lengthAdjust="spacingAndGlyphs" stroke="#333" stroke-width="0.11" stroke-linejoin="round" >0</text>
<text x="594.78" y="101.6" font-size="6.3" text-anchor="middle" fill="#333" textLength="11.35" lengthAdjust="spacingAndGlyphs" stroke="#333" stroke-width="0.11" stroke-linejoin="round" >100</text>
<text x="620.85" y="101.6" font-size="6.3" text-anchor="middle" fill="#333" textLength="11.35" lengthAdjust="spacingAndGlyphs" stroke="#333" stroke-width="0.11" stroke-linejoin="round" >200</text>
<text x="646.92" y="101.6" font-size="6.3" text-anchor="middle" fill="#333" textLength="11.35" lengthAdjust="spacingAndGlyphs" stroke="#333" stroke-width="0.11" stroke-linejoin="round" >300</text>
<text x="673" y="101.6" font-size="6.3" text-anchor="middle" fill="#333" textLength="11.35" lengthAdjust="spacingAndGlyphs" stroke="#333" stroke-width="0.11" stroke-linejoin="round" >400</text>
<path d="M568.7 93.8h-1.8M568.7 72.72h-1.8M568.7 51.65h-1.8M568.7 30.58h-1.8M568.7 9.5h-1.8M568.7 83.26h-1.2M568.7 62.19h-1.2M568.7 41.11h-1.2M568.7 20.04h-1.2" stroke="#777" stroke-width="0.8" fill="none"/>
<text x="565.95" y="95.7" font-size="6.3" text-anchor="end" fill="#333" textLength="3.78" lengthAdjust="spacingAndGlyphs" stroke="#333" stroke-width="0.11" stroke-linejoin="round" >0</text>
<text x="565.95" y="74.62" font-size="6.3" text-anchor="end" fill="#333" textLength="11.35" lengthAdjust="spacingAndGlyphs" stroke="#333" stroke-width="0.11" stroke-linejoin="round" >100</text>
<text x="565.95" y="53.55" font-size="6.3" text-anchor="end" fill="#333" textLength="11.35" lengthAdjust="spacingAndGlyphs" stroke="#333" stroke-width="0.11" stroke-linejoin="round" >200</text>
<text x="565.95" y="32.48" font-size="6.3" text-anchor="end" fill="#333" textLength="11.35" lengthAdjust="spacingAndGlyphs" stroke="#333" stroke-width="0.11" stroke-linejoin="round" >300</text>
<text x="565.95" y="11.4" font-size="6.3" text-anchor="end" fill="#333" textLength="11.35" lengthAdjust="spacingAndGlyphs" stroke="#333" stroke-width="0.11" stroke-linejoin="round" >400</text>
<text x="602.86" y="109.7" font-size="8.6" text-anchor="start" fill="#333" textLength="35.25" lengthAdjust="spacingAndGlyphs" stroke="#333" stroke-width="0.15" stroke-linejoin="round" >Z' (ohm)</text>
<text transform="translate(552.3,70.24) rotate(-90)" font-size="8.6" text-anchor="start" fill="#333" textLength="38.65" lengthAdjust="spacingAndGlyphs" stroke="#333" stroke-width="0.15" stroke-linejoin="round" >-Z'' (ohm)</text>
<circle cx="583.2" cy="17.3" r="2.3" fill="url(#sR2)"/>
<circle cx="583.2" cy="29.9" r="2.3" fill="url(#sY)"/>
<text x="597.7" y="20.7" font-size="10" text-anchor="start" fill="#1e1e1e" textLength="29.44" lengthAdjust="spacingAndGlyphs" stroke="#1e1e1e" stroke-width="0.18" stroke-linejoin="round" >Before</text>
<text x="597.4" y="32.7" font-size="10" text-anchor="start" fill="#1e1e1e" textLength="21.64" lengthAdjust="spacingAndGlyphs" stroke="#1e1e1e" stroke-width="0.18" stroke-linejoin="round" >After</text>
<rect x="500" y="4.4" width="182" height="146.9" fill="none" stroke="#262626" stroke-width="1.2"/>
<path d="M500 151.3v3M528 151.3v3M556 151.3v3M584 151.3v3M612 151.3v3M640 151.3v3M668 151.3v3M514 151.3v2M542 151.3v2M570 151.3v2M598 151.3v2M626 151.3v2M654 151.3v2M682 151.3v2" stroke="#262626" stroke-width="1.0" fill="none"/>
<text x="500" y="164" font-size="10.6" text-anchor="middle" fill="#1e1e1e" textLength="5.58" lengthAdjust="spacingAndGlyphs" stroke="#1e1e1e" stroke-width="0.18" stroke-linejoin="round" >0</text>
<text x="528" y="164" font-size="10.6" text-anchor="middle" fill="#1e1e1e" textLength="16.74" lengthAdjust="spacingAndGlyphs" stroke="#1e1e1e" stroke-width="0.18" stroke-linejoin="round" >200</text>
<text x="556" y="164" font-size="10.6" text-anchor="middle" fill="#1e1e1e" textLength="16.74" lengthAdjust="spacingAndGlyphs" stroke="#1e1e1e" stroke-width="0.18" stroke-linejoin="round" >400</text>
<text x="584" y="164" font-size="10.6" text-anchor="middle" fill="#1e1e1e" textLength="16.74" lengthAdjust="spacingAndGlyphs" stroke="#1e1e1e" stroke-width="0.18" stroke-linejoin="round" >600</text>
<text x="612" y="164" font-size="10.6" text-anchor="middle" fill="#1e1e1e" textLength="16.74" lengthAdjust="spacingAndGlyphs" stroke="#1e1e1e" stroke-width="0.18" stroke-linejoin="round" >800</text>
<text x="640" y="164" font-size="10.6" text-anchor="middle" fill="#1e1e1e" textLength="22.32" lengthAdjust="spacingAndGlyphs" stroke="#1e1e1e" stroke-width="0.18" stroke-linejoin="round" >1000</text>
<text x="668" y="164" font-size="10.6" text-anchor="middle" fill="#1e1e1e" textLength="22.32" lengthAdjust="spacingAndGlyphs" stroke="#1e1e1e" stroke-width="0.18" stroke-linejoin="round" >1200</text>
<path d="M500 151.3h-3M500 114.58h-3M500 77.85h-3M500 41.12h-3M500 4.4h-3M500 132.94h-2M500 96.21h-2M500 59.49h-2M500 22.76h-2" stroke="#262626" stroke-width="1.0" fill="none"/>
<text x="495.32" y="154.5" font-size="10.4" text-anchor="end" fill="#1e1e1e" textLength="24.71" lengthAdjust="spacingAndGlyphs" stroke="#1e1e1e" stroke-width="0.18" stroke-linejoin="round" >0.000</text>
<text x="495.32" y="117.78" font-size="10.4" text-anchor="end" fill="#1e1e1e" textLength="24.71" lengthAdjust="spacingAndGlyphs" stroke="#1e1e1e" stroke-width="0.18" stroke-linejoin="round" >0.005</text>
<text x="495.32" y="81.05" font-size="10.4" text-anchor="end" fill="#1e1e1e" textLength="24.71" lengthAdjust="spacingAndGlyphs" stroke="#1e1e1e" stroke-width="0.18" stroke-linejoin="round" >0.010</text>
<text x="495.32" y="44.33" font-size="10.4" text-anchor="end" fill="#1e1e1e" textLength="24.71" lengthAdjust="spacingAndGlyphs" stroke="#1e1e1e" stroke-width="0.18" stroke-linejoin="round" >0.015</text>
<text x="495.32" y="7.6" font-size="10.4" text-anchor="end" fill="#1e1e1e" textLength="24.71" lengthAdjust="spacingAndGlyphs" stroke="#1e1e1e" stroke-width="0.18" stroke-linejoin="round" >0.020</text>
<text x="569.09" y="181.7" font-size="12.7" text-anchor="start" fill="#1e1e1e" textLength="44.81" lengthAdjust="spacingAndGlyphs" stroke="#1e1e1e" stroke-width="0.18" stroke-linejoin="round" >Time (s)</text>
<text transform="translate(466.7,113.6) rotate(-90)" font-size="12.5" text-anchor="start" fill="#1e1e1e" textLength="71.9" lengthAdjust="spacingAndGlyphs" stroke="#1e1e1e" stroke-width="0.18" stroke-linejoin="round" >Current (mA)</text>
<text x="9.59" y="197.6" font-size="20.3" text-anchor="start" fill="#000" stroke="#000" stroke-width="0.18" stroke-linejoin="round" >d</text>
<polygon points="41.8,255.75 42.5,256.21 43.2,255.58 43.9,256.63 44.6,256.42 45.3,256.34 46,256.9 46.7,256.53 47.4,257.41 48.1,257.15 48.8,257.09 49.5,257.65 50.2,257.5 50.9,257.43 51.6,258.19 52.3,257.69 53,258.66 53.7,258.29 54.4,258.87 55.1,259.4 55.8,259.11 56.5,259.3 57.2,259.06 57.9,258.87 58.6,259.01 59.3,259.24 60,259.82 60.7,259.74 61.4,259.94 62.1,260.43 62.8,259.78 63.5,259.99 64.2,260.53 64.9,260.01 65.6,260.01 66.3,260.38 67,260.15 67.7,260.41 68.4,260.29 69.1,260.67 69.8,260.69 70.5,260.31 71.2,260.75 71.9,260.61 72.6,260.29 73.3,261.1 74,260.42 74.7,260.34 75.4,260.3 76.1,260.86 76.8,261.11 77.5,261.03 78.2,260.67 78.9,260.54 79.6,260.3 80.3,260.95 81,260.88 81.7,260.68 82.4,260.99 83.1,260.81 83.8,261.31 84.5,261.12 85.2,260.65 85.9,261.32 86.6,260.48 87.3,260.98 88,260.87 88.7,260.71 89.4,260.55 90.1,261.28 90.8,260.53 91.5,261.08 92.2,261.48 92.9,260.7 93.6,260.77 94.3,261.19 95,261.11 95.7,261.26 96.4,261.44 97.1,260.82 97.8,260.97 98.5,260.97 99.2,260.73 99.9,261.59 100.6,261.51 101.3,261.48 102,260.8 102.7,261.67 103.4,261.61 104.1,261.36 104.8,261.67 105.5,261.42 106.2,261.22 106.9,261.14 107.6,261.3 108.3,261.14 109,261.47 109.7,261.92 110.4,261.9 111.1,262.08 111.8,261.98 112.5,261.57 113.2,261.89 113.9,261.81 114.6,262.19 115.3,261.96 116,261.74 116.7,262.15 117.4,262.5 118.1,261.79 118.8,262.49 119.5,261.65 120.2,261.93 120.9,261.94 121.6,262.48 122.3,262.72 123,262.55 123.7,262.17 124.4,262.75 125.1,262.24 125.8,262.18 126.5,262.88 127.2,262.65 127.9,262.77 128.6,262.8 129.3,263.17 130,262.71 130.7,263.14 131.4,263.06 132.1,263.27 132.8,262.91 133.5,263.25 134.2,263.16 134.9,262.95 135.6,262.91 136.3,263.38 137,262.89 137.7,263.78 138.4,263.07 139.1,263.01 139.8,263.15 140.5,264.03 141.2,263.5 141.9,263.35 142.6,263.3 143.3,263.35 144,264.02 144.7,263.98 145.4,264.06 146.1,264.11 146.8,263.46 147.5,264 148.2,263.79 148.9,264.26 149.6,264.28 150.3,264.37 151,263.56 151.7,264.38 152.4,264.45 153.1,264.49 153.8,263.67 154.5,263.79 155.2,263.71 155.9,263.65 156.6,264.48 157.3,264.46 158,264.3 158.7,264.51 159.4,264.33 160.1,264.01 160.8,263.84 161.5,263.85 162.2,264.53 162.9,263.99 163.6,264.13 164.3,264.25 165,263.86 165.7,264.11 166.4,264.16 167.1,264.61 167.8,264.28 168.5,264.25 169.2,264.91 169.9,264.46 170.6,264.83 171.3,264.61 172,264.04 172.7,264.44 173.4,264.48 174.1,264.84 174.8,264.43 175.5,264.8 176.2,264.65 176.9,264.35 177.6,265.01 178.3,264.26 179,265 179.7,264.37 180.4,264.22 181.1,264.44 181.8,265.02 182.5,265.25 183.2,264.29 183.9,264.8 184.6,264.81 185.3,265.14 186,264.54 186.7,264.87 187.4,264.74 188.1,265.24 188.8,264.69 189.5,265.39 190.2,264.74 190.9,264.69 191.6,265.19 192.3,265.01 193,264.64 193.7,265.18 194.4,264.64 195.1,265.37 195.8,265.29 196.5,265.4 197.2,265.26 197.9,265 198.6,265.07 199.3,265.08 200,265.59 200.7,264.82 201.4,265.65 202.1,264.82 202.8,265.03 203.5,265.11 204.2,265.78 204.9,265.41 205.6,265.32 206.3,265.86 207,265.24 207.7,265.49 208.4,265.6 209.1,265.85 209.8,265.88 210.5,265.8 211.2,265.53 211.9,265.54 212.6,265.4 213.3,266.12 214,265.97 214.7,266.08 215.4,265.54 216.1,265.84 216.8,266.2 217.5,266.04 218.2,265.61 218.9,265.98 219.6,266.43 220.3,265.82 221,265.8 221.7,265.94 222.4,266.37 223.1,266.54 223.8,265.89 224.5,265.92 225.2,266.04 225.9,266.15 226.6,266.37 227.3,266.04 228,266.24 228.7,266.13 229.4,266.95 230.1,266.73 230.8,266.15 231.5,267.05 232.2,266.23 232.9,266.55 233.6,267.19 234.3,267.04 235,267.02 235.7,266.76 236.4,266.56 237.1,267.04 237.8,266.55 238.5,266.69 239.2,266.91 239.9,266.6 240.6,267 241.3,267.44 242,267.38 242.7,267.23 243.4,267.4 244.1,267.27 244.8,266.99 245.5,267.49 246.2,267.33 246.9,267.71 247.6,267.91 248.3,267.48 249,267.66 249.7,267.87 250.4,267.59 251.1,267.43 251.8,267.97 252.5,268.17 253.2,268.1 253.9,268.07 254.6,268.26 255.3,268.13 256,268.13 256.7,267.98 257.4,267.88 258.1,268.23 258.8,267.74 259.5,268.11 260.2,268.51 260.9,268.48 261.6,268.44 262.3,268.1 263,268.31 263.7,268.38 264.4,268.59 265.1,268.41 265.8,268.68 266.5,268.95 267.2,268.21 267.9,268.68 268.6,268.82 269.3,268.43 270,268.54 270.7,269.03 271.4,268.11 272.1,268.62 272.8,268.24 273.5,268.87 274.2,269.04 274.9,268.62 275.6,268.21 276.3,268.69 277,268.67 277.7,268.85 278.4,268.65 279.1,268.79 279.8,268.98 280.5,268.68 281.2,268.58 281.9,269.13 282.6,268.39 283.3,268.88 284,268.59 284.7,268.97 285.4,268.34 286.1,269.21 286.8,268.58 287.5,268.29 288.2,268.52 288.9,268.65 289.6,268.27 290.3,268.68 291,268.69 291.7,268.98 292.4,268.64 293.1,268.56 293.8,268.53 294.5,269.05 295.2,269.26 295.9,268.85 296.6,268.55 297.3,269.14 298,268.74 298.7,268.57 299.4,268.49 300.1,269.14 300.8,269.19 301.5,269.02 302.2,268.86 302.9,268.96 303.6,268.63 304.3,269.38 305,268.77 305.7,269.07 306.4,269.25 307.1,269.26 307.8,268.92 308.5,268.75 309.2,269.01 309.9,268.6 310.6,269.31 311.3,268.84 312,269.34 312.7,268.77 313.4,268.88 314.1,268.77 314.8,268.95 315.5,268.72 316.2,268.54 316.9,269.27 317.6,268.83 318.3,268.8 319,268.87 319.7,269.05 320.4,269.01 321.1,269.23 321.8,269.26 322.5,268.97 323.2,269.54 323.9,269.47 324.6,268.68 325.3,269.46 326,269.55 326.7,269.43 327.4,268.8 328.1,269.49 328.8,269.3 329.5,268.69 330.2,268.7 330.9,269.64 331.6,269.35 332.3,268.96 333,268.82 333.7,268.86 334.4,268.96 335.1,269.51 335.8,269.09 336.5,268.9 337.2,269.66 337.9,269.56 338.6,268.94 339.3,269.67 340,269.4 340.7,269.58 341.4,269.47 342.1,269.7 342.8,269.6 343.5,269.66 344.2,269.03 344.9,269.53 345.6,269.38 346.3,269.6 347,269.3 347.7,269.75 348.4,269.43 349.1,269.15 349.8,269.12 350.5,269.04 351.2,269.4 351.9,268.97 352.6,269.39 353.3,269.07 354,269.43 354.7,269.44 355.4,269.49 356.1,269.82 356.8,268.97 357.5,269.81 358.2,269.45 358.9,269.55 359.6,269.66 360.3,269.84 361,269.38 361.7,269.43 362.4,269.98 363.1,269.1 363.8,269.67 364.5,269.68 365.2,269.08 365.9,269.67 366.6,269.75 367.3,270.01 368,269.41 368.7,270.07 369.4,269.61 370.1,269.59 370.8,270.01 371.5,269.15 372.2,269.84 372.9,269.76 373.6,269.48 374.3,270.01 375,269.52 375.7,269.64 376.4,269.69 377.1,269.95 377.8,269.39 378.5,269.63 379.2,269.62 379.9,269.76 380.6,270.04 381.3,269.51 382,270.06 382.7,269.64 383.4,269.75 384.1,269.52 384.8,269.76 385.5,270.24 386.2,269.93 386.9,270.07 387.6,269.62 388.3,269.61 389,269.6 389.7,269.9 390.4,269.95 391.1,270.11 391.8,269.37 392.5,270.06 393.2,270.23 393.9,269.9 394.6,269.41 395.3,269.67 396,269.38 396.7,269.57 397.4,270.31 398.1,270.01 398.8,270.06 399.5,270.2 400.2,270.33 400.9,270.04 401.6,270.05 402.3,270.07 403,270.14 403.7,270.05 404.4,270.14 405.1,269.68 405.8,270.14 406.5,269.94 407.2,270.25 407.9,269.6 408.6,269.69 409.3,269.55 410,270.3 410.7,270.44 411.4,270.19 412.1,269.91 412.8,270.37 413.5,270.34 414.2,270.13 414.9,269.83 415.6,269.88 416.3,270.01 417,269.91 417.7,270.03 418.4,270.25 419.1,270.55 419.8,269.68 420.5,270.2 421.2,269.68 421.9,269.77 422.6,270.46 423.3,270.24 424,270.59 424.7,270.12 425.4,269.7 426.1,270.08 426.8,270.29 426.8,270.64 426.8,299.18 426.8,298.88 426.1,298.87 425.4,298.72 424.7,298.7 424,298.43 423.3,298.86 422.6,299.02 421.9,299.3 421.2,298.71 420.5,298.96 419.8,298.73 419.1,298.77 418.4,299.07 417.7,298.91 417,298.92 416.3,299.4 415.6,298.95 414.9,299.19 414.2,299.35 413.5,298.93 412.8,299.01 412.1,298.49 411.4,298.46 410.7,299.37 410,298.89 409.3,298.68 408.6,299.44 407.9,299.33 407.2,299.34 406.5,298.83 405.8,299.43 405.1,298.6 404.4,299.1 403.7,299.11 403,298.68 402.3,298.85 401.6,298.74 400.9,299 400.2,299.06 399.5,299.42 398.8,299.37 398.1,298.91 397.4,298.98 396.7,299.15 396,299 395.3,298.91 394.6,299.34 393.9,299.08 393.2,299.09 392.5,299.02 391.8,299.25 391.1,299.53 390.4,299.45 389.7,299.09 389,299.25 388.3,299.64 387.6,299.19 386.9,299.28 386.2,299.47 385.5,298.71 384.8,299.59 384.1,298.85 383.4,299.65 382.7,299.45 382,299.53 381.3,299.23 380.6,299.52 379.9,299.51 379.2,299.51 378.5,299.3 377.8,299.61 377.1,299.64 376.4,299.42 375.7,299.48 375,299.17 374.3,299.16 373.6,298.98 372.9,299.57 372.2,299.8 371.5,299.07 370.8,298.96 370.1,299.6 369.4,299.31 368.7,299.26 368,298.94 367.3,299.33 366.6,299.77 365.9,298.97 365.2,299.07 364.5,299.69 363.8,299.22 363.1,299.92 362.4,299.22 361.7,299.44 361,299.51 360.3,299.2 359.6,299.83 358.9,299.33 358.2,298.99 357.5,299.57 356.8,299.38 356.1,299.51 355.4,299.23 354.7,299.26 354,299.33 353.3,299.5 352.6,299.65 351.9,299.59 351.2,299.51 350.5,299.77 349.8,299.26 349.1,299.72 348.4,299.65 347.7,299.69 347,299.93 346.3,299.64 345.6,299.19 344.9,299.35 344.2,299.41 343.5,299.53 342.8,299.43 342.1,299.27 341.4,299.27 340.7,299.3 340,299.69 339.3,299.63 338.6,299.44 337.9,299.69 337.2,300.14 336.5,299.79 335.8,299.32 335.1,299.86 334.4,299.52 333.7,299.51 333,300.18 332.3,299.67 331.6,299.76 330.9,299.5 330.2,299.88 329.5,300.19 328.8,299.81 328.1,299.55 327.4,299.96 326.7,299.56 326,299.94 325.3,299.34 324.6,300.2 323.9,300.2 323.2,300.13 322.5,299.97 321.8,300.28 321.1,300.12 320.4,300.32 319.7,299.5 319,299.39 318.3,299.88 317.6,299.81 316.9,299.46 316.2,299.93 315.5,299.77 314.8,300.04 314.1,299.84 313.4,299.67 312.7,300.36 312,300.39 311.3,299.96 310.6,299.5 309.9,300.3 309.2,300.28 308.5,300.38 307.8,300.28 307.1,300.47 306.4,299.93 305.7,299.83 305,299.75 304.3,299.85 303.6,300.3 302.9,300.47 302.2,299.93 301.5,300.07 300.8,300.39 300.1,299.97 299.4,299.95 298.7,300.5 298,300.4 297.3,299.75 296.6,300.33 295.9,300.17 295.2,299.75 294.5,300.47 293.8,300.21 293.1,299.76 292.4,300.04 291.7,299.76 291,299.92 290.3,300.15 289.6,300.15 288.9,299.79 288.2,299.72 287.5,300.39 286.8,300.55 286.1,299.79 285.4,300.4 284.7,300.23 284,300.29 283.3,300.32 282.6,299.74 281.9,299.93 281.2,300.44 280.5,299.84 279.8,299.78 279.1,300.58 278.4,300.02 277.7,299.88 277,299.96 276.3,300.01 275.6,300.76 274.9,299.82 274.2,300.35 273.5,300.35 272.8,300.34 272.1,300.32 271.4,300.79 270.7,300.72 270,299.91 269.3,300.61 268.6,300.25 267.9,300.58 267.2,300.2 266.5,300.75 265.8,300.71 265.1,300.61 264.4,300.05 263.7,300.47 263,300.43 262.3,300.53 261.6,300.05 260.9,300.67 260.2,300.47 259.5,300.29 258.8,300.52 258.1,301.02 257.4,300.4 256.7,300.51 256,301.15 255.3,300.78 254.6,301.24 253.9,300.38 253.2,300.88 252.5,301.28 251.8,301.29 251.1,300.81 250.4,301.32 249.7,300.59 249,301.29 248.3,301 247.6,301.36 246.9,300.72 246.2,300.88 245.5,301.29 244.8,301.55 244.1,301.48 243.4,301.41 242.7,301.03 242,301.13 241.3,301.38 240.6,301.52 239.9,301.03 239.2,301.05 238.5,301.2 237.8,301.74 237.1,301.83 236.4,301.27 235.7,301.26 235,301.72 234.3,301.39 233.6,302.12 232.9,301.67 232.2,301.45 231.5,301.82 230.8,302.15 230.1,301.35 229.4,301.52 228.7,301.75 228,302.24 227.3,301.48 226.6,302.47 225.9,301.82 225.2,302.28 224.5,301.64 223.8,302.51 223.1,301.93 222.4,301.77 221.7,302.62 221,302.73 220.3,302.75 219.6,302.15 218.9,302.02 218.2,302.1 217.5,302.16 216.8,302.38 216.1,302.14 215.4,302.63 214.7,302.88 214,302.08 213.3,303.03 212.6,302.19 211.9,303.01 211.2,302.45 210.5,302.65 209.8,302.36 209.1,302.56 208.4,303.09 207.7,302.55 207,302.46 206.3,302.75 205.6,302.63 204.9,303.27 204.2,302.57 203.5,303.01 202.8,303.2 202.1,302.57 201.4,302.76 200.7,302.71 200,303.23 199.3,303.1 198.6,303.47 197.9,303.01 197.2,303.14 196.5,303.34 195.8,303.57 195.1,303.68 194.4,302.87 193.7,303.25 193,302.96 192.3,303.73 191.6,303.73 190.9,303.82 190.2,303.13 189.5,303.86 188.8,302.99 188.1,303.17 187.4,303.72 186.7,303.03 186,303.72 185.3,303.21 184.6,303.32 183.9,303.28 183.2,303.61 182.5,303.28 181.8,303.43 181.1,303.52 180.4,303.32 179.7,304 179,303.85 178.3,303.58 177.6,303.98 176.9,304.27 176.2,304.11 175.5,303.52 174.8,303.45 174.1,304.4 173.4,304.09 172.7,304.17 172,304.27 171.3,303.55 170.6,304.37 169.9,304.46 169.2,304.48 168.5,303.95 167.8,303.87 167.1,303.68 166.4,303.88 165.7,304.67 165,304.67 164.3,303.89 163.6,304.2 162.9,304.16 162.2,304.46 161.5,304.77 160.8,304.48 160.1,304.42 159.4,304.14 158.7,304.86 158,304.05 157.3,304.35 156.6,304.57 155.9,304.06 155.2,304.92 154.5,304.98 153.8,304.52 153.1,304.95 152.4,304.66 151.7,304.18 151,304.23 150.3,304.35 149.6,304.39 148.9,304.25 148.2,304.49 147.5,305.22 146.8,305.1 146.1,305.07 145.4,305.27 144.7,304.77 144,305.15 143.3,304.65 142.6,304.96 141.9,304.86 141.2,305.22 140.5,305.33 139.8,304.35 139.1,304.32 138.4,304.8 137.7,304.61 137,304.85 136.3,304.39 135.6,305 134.9,304.83 134.2,304.29 133.5,304.54 132.8,305.14 132.1,304.17 131.4,304.26 130.7,304.61 130,304.48 129.3,304.62 128.6,304.4 127.9,304.72 127.2,304.19 126.5,304.23 125.8,304.28 125.1,304.74 124.4,304.68 123.7,304.78 123,305.2 122.3,305.26 121.6,305 120.9,304.71 120.2,305.3 119.5,305.39 118.8,304.73 118.1,305.15 117.4,305.54 116.7,305.55 116,305.11 115.3,305.12 114.6,305.43 113.9,305.7 113.2,305.68 112.5,305.36 111.8,306.11 111.1,305.99 110.4,305.49 109.7,306.14 109,305.95 108.3,305.54 107.6,305.86 106.9,306.48 106.2,306.3 105.5,306.48 104.8,306.58 104.1,306.05 103.4,306.41 102.7,306.76 102,306.76 101.3,306.83 100.6,306.1 99.9,306.99 99.2,306.93 98.5,306.72 97.8,306.57 97.1,306.43 96.4,306.19 95.7,306.48 95,307.02 94.3,307.13 93.6,306.85 92.9,306.95 92.2,306.66 91.5,307.19 90.8,306.74 90.1,306.64 89.4,306.95 88.7,307.19 88,307.36 87.3,307 86.6,306.74 85.9,307.26 85.2,307.15 84.5,307.44 83.8,306.54 83.1,306.79 82.4,307.08 81.7,307.31 81,307.49 80.3,307.35 79.6,306.96 78.9,307.01 78.2,307.24 77.5,307.27 76.8,307 76.1,307.46 75.4,306.82 74.7,307.37 74,307.15 73.3,307.3 72.6,307.11 71.9,306.82 71.2,307.26 70.5,307.65 69.8,306.98 69.1,307.61 68.4,307.25 67.7,307.08 67,307.88 66.3,307.77 65.6,307.2 64.9,307.25 64.2,308.02 63.5,308.33 62.8,307.68 62.1,308.42 61.4,308.01 60.7,308.32 60,308.3 59.3,307.81 58.6,308.52 57.9,308.7 57.2,308.62 56.5,308.74 55.8,308.08 55.1,308.28 54.4,308.99 53.7,308.68 53,309.34 52.3,308.82 51.6,309.11 50.9,310.04 50.2,309.44 49.5,310.5 48.8,309.83 48.1,310.58 47.4,310.08 46.7,310.27 46,310.59 45.3,310.83 44.6,311.2 43.9,310.39 43.2,310.44 42.5,310.25 41.8,310.49" fill="#cf1b1b"/>
<path d="M41.8 255.15v3.93M41.8 311.09v-2.97M43.2 254.98v2.88M43.2 311.04v-3.25M44.6 255.82v3.99M44.6 311.8v-2.69M46 256.3v3.06M46 311.19v-3.63M47.4 256.81v2.34M47.4 310.68v-2.64M48.8 256.49v3.96M48.8 310.43v-3.65M50.2 256.9v3.03M50.2 310.04v-2.22M51.6 257.59v3.79M51.6 309.71v-3.38M53 258.06v3.64M53 309.94v-3.98M54.4 258.27v3.78M54.4 309.59v-2.84M55.8 258.51v2.31M55.8 308.68v-2.58M57.2 258.46v3.02M57.2 309.22v-3.01M58.6 258.41v2.38M58.6 309.12v-2.36M60 259.22v3.26M60 308.9v-3.21M61.4 259.34v2.71M61.4 308.61v-3.99M62.8 259.18v3.27M62.8 308.28v-2.08M64.2 259.93v2.82M64.2 308.62v-3.58M65.6 259.41v2.61M65.6 307.8v-3.38M67 259.55v2.01M67 308.48v-2.61M68.4 259.69v3.68M68.4 307.85v-3.17M69.8 260.09v3.34M69.8 307.58v-2.39M71.2 260.15v3M71.2 307.86v-3.11M72.6 259.69v2.53M72.6 307.71v-3.29M74 259.82v3.06M74 307.75v-3.99M75.4 259.7v3.15M75.4 307.42v-2.82M76.8 260.51v2.24M76.8 307.6v-2.31M78.2 260.07v3.52M78.2 307.84v-2.21M79.6 259.7v2.2M79.6 307.56v-2.34M81 260.28v3.04M81 308.09v-3.65M82.4 260.39v3.23M82.4 307.68v-3.61M83.8 260.71v2.12M83.8 307.14v-2.02M85.2 260.05v3.54M85.2 307.75v-2.65M86.6 259.88v3.43M86.6 307.34v-2.71M88 260.27v2.34M88 307.96v-2.53M89.4 259.95v2.2M89.4 307.55v-3.81M90.8 259.93v3.16M90.8 307.34v-2.7M92.2 260.88v2.9M92.2 307.26v-2.77M93.6 260.17v2.11M93.6 307.45v-3.78M95 260.51v3.17M95 307.62v-3.92M96.4 260.84v2.88M96.4 306.79v-3.24M97.8 260.37v2.5M97.8 307.17v-2.09M99.2 260.13v3.86M99.2 307.53v-3.71M100.6 260.91v2.63M100.6 306.7v-3.8M102 260.2v3.63M102 307.36v-2.61M103.4 261.01v3.21M103.4 307.01v-3.92M104.8 261.07v2.99M104.8 307.18v-3.9M106.2 260.62v2.49M106.2 306.9v-2.78M107.6 260.7v3.44M107.6 306.46v-2.44M109 260.87v2.62M109 306.55v-3.75M110.4 261.3v2.97M110.4 306.09v-3.59M111.8 261.38v2.49M111.8 306.71v-2.35M113.2 261.29v2.72M113.2 306.28v-2.37M114.6 261.59v3.94M114.6 306.03v-2.58M116 261.14v3.12M116 305.71v-2.23M117.4 261.9v3.07M117.4 306.14v-2.77M118.8 261.89v2.81M118.8 305.33v-2.13M120.2 261.33v2.25M120.2 305.9v-3.65M121.6 261.88v2.7M121.6 305.6v-2.49M123 261.95v2.38M123 305.8v-2.57M124.4 262.15v2.47M124.4 305.28v-2.07M125.8 261.58v3.33M125.8 304.88v-2.68M127.2 262.05v2.31M127.2 304.79v-3.41M128.6 262.2v2.19M128.6 305v-2.54M130 262.11v3.67M130 305.08v-2.26M131.4 262.46v2.89M131.4 304.86v-3.67M132.8 262.31v3.61M132.8 305.74v-2.32M134.2 262.56v2.71M134.2 304.89v-3.44M135.6 262.31v2.75M135.6 305.6v-3.92M137 262.29v2.42M137 305.45v-3.9M138.4 262.47v3.01M138.4 305.4v-2.45M139.8 262.55v2.91M139.8 304.95v-2.26M141.2 262.9v3.41M141.2 305.82v-2.52M142.6 262.7v3.8M142.6 305.56v-3.18M144 263.42v2.74M144 305.75v-2.49M145.4 263.46v3.22M145.4 305.87v-2.43M146.8 262.86v3.74M146.8 305.7v-2.25M148.2 263.19v3.03M148.2 305.09v-3.09M149.6 263.68v2.54M149.6 304.99v-3.54M151 262.96v2.77M151 304.83v-3.32M152.4 263.85v3.14M152.4 305.26v-2.62M153.8 263.07v2.78M153.8 305.12v-2.17M155.2 263.11v2.35M155.2 305.52v-3.7M156.6 263.88v2.64M156.6 305.17v-3.33M158 263.7v2.22M158 304.65v-3.12M159.4 263.73v2.72M159.4 304.74v-3M160.8 263.24v2.59M160.8 305.08v-2.13M162.2 263.93v2.62M162.2 305.06v-2.45M163.6 263.53v2.25M163.6 304.8v-3.43M165 263.26v2.56M165 305.27v-2.81M166.4 263.56v3.82M166.4 304.48v-3.55M167.8 263.68v3.77M167.8 304.47v-3.72M169.2 264.31v2.26M169.2 305.08v-2.55M170.6 264.23v2.06M170.6 304.97v-3.36M172 263.44v3.33M172 304.87v-2.7M173.4 263.88v2.83M173.4 304.69v-3.32M174.8 263.83v3.4M174.8 304.05v-2.5M176.2 264.05v3.69M176.2 304.71v-2.7M177.6 264.41v3.26M177.6 304.58v-2.36M179 264.4v2.23M179 304.45v-3.83M180.4 263.62v3.47M180.4 303.92v-3.43M181.8 264.42v2.08M181.8 304.03v-2.08M183.2 263.69v2.32M183.2 304.21v-2.4M184.6 264.21v2.61M184.6 303.92v-2.76M186 263.94v2.08M186 304.32v-2.62M187.4 264.14v3.28M187.4 304.32v-2.36M188.8 264.09v3.68M188.8 303.59v-3.14M190.2 264.14v3.43M190.2 303.73v-2.51M191.6 264.59v2.87M191.6 304.33v-3.37M193 264.04v2.7M193 303.56v-2M194.4 264.04v3.67M194.4 303.47v-3.55M195.8 264.69v2.57M195.8 304.17v-2.09M197.2 264.66v3.71M197.2 303.74v-3.21M198.6 264.47v2.09M198.6 304.07v-2.49M200 264.99v2.22M200 303.83v-3.58M201.4 265.05v2.42M201.4 303.36v-3.83M202.8 264.43v3.5M202.8 303.8v-2.17M204.2 265.18v3.39M204.2 303.17v-2.79M205.6 264.72v3.5M205.6 303.23v-3.66M207 264.64v2.56M207 303.06v-2.18M208.4 265v3.89M208.4 303.69v-2.85M209.8 265.28v3.86M209.8 302.96v-3.38M211.2 264.93v3.48M211.2 303.05v-3.66M212.6 264.8v3.26M212.6 302.79v-2.91M214 265.37v2.11M214 302.68v-3.4M215.4 264.94v2.86M215.4 303.23v-3.02M216.8 265.6v3.86M216.8 302.98v-2.26M218.2 265.01v3.52M218.2 302.7v-2.09M219.6 265.83v3.41M219.6 302.75v-3.61M221 265.2v2.52M221 303.33v-3.09M222.4 265.77v3.94M222.4 302.37v-3.28M223.8 265.29v3.09M223.8 303.11v-2.5M225.2 265.44v2.12M225.2 302.88v-2.72M226.6 265.77v2.82M226.6 303.07v-2.4M228 265.64v2.62M228 302.84v-2.27M229.4 266.35v3.41M229.4 302.12v-3.34M230.8 265.55v2.48M230.8 302.75v-2.48M232.2 265.63v3.03M232.2 302.05v-2.89M233.6 266.59v3.87M233.6 302.72v-2.7M235 266.42v2.6M235 302.32v-3.77M236.4 265.96v2.28M236.4 301.87v-3.13M237.8 265.95v2.67M237.8 302.34v-3.63M239.2 266.31v3.1M239.2 301.65v-3.52M240.6 266.4v2.34M240.6 302.12v-3.33M242 266.78v3.2M242 301.73v-2.92M243.4 266.8v3.53M243.4 302.01v-3.66M244.8 266.39v2.23M244.8 302.15v-2.58M246.2 266.73v2.72M246.2 301.48v-2.41M247.6 267.31v2.12M247.6 301.96v-2.56M249 267.06v2.39M249 301.89v-3.4M250.4 266.99v2.9M250.4 301.92v-2.23M251.8 267.37v2.65M251.8 301.89v-2.94M253.2 267.5v2.73M253.2 301.48v-2.34M254.6 267.66v2.14M254.6 301.84v-2.02M256 267.53v3.98M256 301.75v-3.5M257.4 267.28v2.17M257.4 301v-3.43M258.8 267.14v3.96M258.8 301.12v-3.13M260.2 267.91v2.22M260.2 301.07v-2.98M261.6 267.84v2.87M261.6 300.65v-2.38M263 267.71v3.09M263 301.03v-2.02M264.4 267.99v3.84M264.4 300.65v-3.29M265.8 268.08v3.26M265.8 301.31v-3.87M267.2 267.61v3.31M267.2 300.8v-2.5M268.6 268.22v2.49M268.6 300.85v-2.28M270 267.94v2.06M270 300.51v-3.55M271.4 267.51v3.68M271.4 301.39v-2.59M272.8 267.64v2.37M272.8 300.94v-3.28M274.2 268.44v3.69M274.2 300.95v-3.85M275.6 267.61v2.34M275.6 301.36v-3.57M277 268.07v3.66M277 300.56v-3.48M278.4 268.05v2.65M278.4 300.62v-2.37M279.8 268.38v3.65M279.8 300.38v-2.64M281.2 267.98v2.74M281.2 301.04v-3.1M282.6 267.79v2.74M282.6 300.34v-3.66M284 267.99v2.48M284 300.89v-2.08M285.4 267.74v3.13M285.4 301v-3.26M286.8 267.98v3.64M286.8 301.15v-3.41M288.2 267.92v3.81M288.2 300.32v-3.89M289.6 267.67v2.99M289.6 300.75v-3M291 268.09v2.31M291 300.52v-2.6M292.4 268.04v3.16M292.4 300.64v-2.16M293.8 267.93v3.38M293.8 300.81v-2.33M295.2 268.66v2.89M295.2 300.35v-3.94M296.6 267.95v2.18M296.6 300.93v-2.08M298 268.14v2.88M298 301v-2.38M299.4 267.89v3.45M299.4 300.55v-2.01M300.8 268.59v3.68M300.8 300.99v-3.71M302.2 268.26v3.57M302.2 300.53v-2.85M303.6 268.03v2.57M303.6 300.9v-3.32M305 268.17v3.03M305 300.35v-2.84M306.4 268.65v2.68M306.4 300.53v-2.88M307.8 268.32v3.33M307.8 300.88v-3.65M309.2 268.41v3.81M309.2 300.88v-2.33M310.6 268.71v2.59M310.6 300.1v-2.89M312 268.74v3.13M312 300.99v-2.7M313.4 268.28v2.39M313.4 300.27v-2.17M314.8 268.35v2.65M314.8 300.64v-2.92M316.2 267.94v3.94M316.2 300.53v-3.82M317.6 268.23v3.73M317.6 300.41v-3.95M319 268.27v3.92M319 299.99v-3.24M320.4 268.41v3.62M320.4 300.92v-2.12M321.8 268.66v3.35M321.8 300.88v-3.22M323.2 268.94v2.59M323.2 300.73v-3.14M324.6 268.08v3.91M324.6 300.8v-2.96M326 268.95v3.29M326 300.54v-2.6M327.4 268.2v2.69M327.4 300.56v-3.77M328.8 268.7v2.06M328.8 300.41v-2.38M330.2 268.1v3.36M330.2 300.48v-2.89M331.6 268.75v2.17M331.6 300.36v-3.32M333 268.22v2.74M333 300.78v-3.16M334.4 268.36v2.83M334.4 300.12v-3.06M335.8 268.49v3.13M335.8 299.92v-2.79M337.2 269.06v2.23M337.2 300.74v-2.36M338.6 268.34v3.78M338.6 300.04v-3.1M340 268.8v2.22M340 300.29v-3.72M341.4 268.87v2.51M341.4 299.87v-2.19M342.8 269v3.06M342.8 300.03v-2.5M344.2 268.43v2.98M344.2 300.01v-3.11M345.6 268.78v2.45M345.6 299.79v-3.15M347 268.7v2.23M347 300.53v-3.03M348.4 268.83v3.18M348.4 300.25v-2.16M349.8 268.52v2.82M349.8 299.86v-2.15M351.2 268.8v2.88M351.2 300.11v-3.73M352.6 268.79v3.1M352.6 300.25v-3.43M354 268.83v3.51M354 299.93v-2.23M355.4 268.89v3.98M355.4 299.83v-3.44M356.8 268.37v2.2M356.8 299.98v-3.66M358.2 268.85v2.78M358.2 299.59v-2.34M359.6 269.06v3.92M359.6 300.43v-3.13M361 268.78v3.55M361 300.11v-2.27M362.4 269.38v3.55M362.4 299.82v-2.12M363.8 269.07v2.47M363.8 299.82v-2.74M365.2 268.48v2.03M365.2 299.67v-3.19M366.6 269.15v2.43M366.6 300.37v-2.6M368 268.81v3.41M368 299.54v-2.85M369.4 269.01v3.78M369.4 299.91v-3.24M370.8 269.41v3.74M370.8 299.56v-3.13M372.2 269.24v3.84M372.2 300.4v-3.74M373.6 268.88v2.34M373.6 299.58v-3.49M375 268.92v2.68M375 299.77v-3.53M376.4 269.09v3.36M376.4 300.02v-3.65M377.8 268.79v2.25M377.8 300.21v-2.75M379.2 269.02v3.47M379.2 300.11v-3.9M380.6 269.44v3.44M380.6 300.12v-2.09M382 269.46v3.21M382 300.13v-2.2M383.4 269.15v3.1M383.4 300.25v-3.61M384.8 269.16v2.23M384.8 300.19v-3.85M386.2 269.33v3.35M386.2 300.07v-2.51M387.6 269.02v2.39M387.6 299.79v-2.89M389 269v3.68M389 299.85v-3.16M390.4 269.35v2.23M390.4 300.05v-2.04M391.8 268.77v2.22M391.8 299.85v-3.6M393.2 269.63v2.37M393.2 299.69v-3.11M394.6 268.81v2.58M394.6 299.94v-3.37M396 268.78v2.76M396 299.6v-2.29M397.4 269.71v3.75M397.4 299.58v-3.08M398.8 269.46v3.38M398.8 299.97v-3.62M400.2 269.73v3.9M400.2 299.66v-2.03M401.6 269.45v2.68M401.6 299.34v-2.3M403 269.54v3M403 299.28v-3.75M404.4 269.54v3.6M404.4 299.7v-2.07M405.8 269.54v2.36M405.8 300.03v-3.64M407.2 269.65v3.36M407.2 299.94v-2.79M408.6 269.09v2.95M408.6 300.04v-2.32M410 269.7v3.69M410 299.49v-2.79M411.4 269.59v3.75M411.4 299.06v-3.22M412.8 269.77v2.15M412.8 299.61v-2.66M414.2 269.53v2.43M414.2 299.95v-3.79M415.6 269.28v3.18M415.6 299.55v-2.09M417 269.31v2.34M417 299.52v-2.72M418.4 269.65v2.94M418.4 299.67v-3.15M419.8 269.08v2.78M419.8 299.33v-2.71M421.2 269.08v2.01M421.2 299.31v-3.16M422.6 269.86v2.67M422.6 299.62v-2.04M424 269.99v2.92M424 299.03v-3.97M425.4 269.1v2.09M425.4 299.32v-2.29M426.8 269.69v3.34M426.8 299.48v-2.55" stroke="#e06060" stroke-width="0.4" opacity="0.8"/>
<polygon points="41.8,251.66 42.5,251.89 43.2,251.48 43.9,251.83 44.6,251.69 45.3,252.26 46,252.37 46.7,251.08 47.4,251.88 48.1,252.23 48.8,252.43 49.5,252.34 50.2,252.2 50.9,252.26 51.6,251.94 52.3,251.88 53,252.65 53.7,252.82 54.4,252.97 55.1,252.66 55.8,252.19 56.5,252.89 57.2,252.91 57.9,252.64 58.6,252.88 59.3,252.53 60,252.87 60.7,252.72 61.4,252.3 62.1,252.74 62.8,252.78 63.5,253.76 64.2,253.11 64.9,253.01 65.6,252.89 66.3,252.93 67,253.15 67.7,252.91 68.4,252.78 69.1,254.05 69.8,253.52 70.5,253.52 71.2,253.7 71.9,253.32 72.6,253.14 73.3,252.99 74,253.32 74.7,253.33 75.4,253.92 76.1,253.67 76.8,254.21 77.5,253.38 78.2,254.19 78.9,253.72 79.6,253.01 80.3,253.15 81,253.71 81.7,254.28 82.4,253.4 83.1,253.98 83.8,253.5 84.5,254.12 85.2,252.99 85.9,253.58 86.6,254.16 87.3,253.29 88,253.26 88.7,252.93 89.4,253.13 90.1,253.28 90.8,253.89 91.5,253.21 92.2,253.46 92.9,253.18 93.6,253.74 94.3,254.11 95,253.81 95.7,253.18 96.4,253.93 97.1,254.25 97.8,253.74 98.5,253.01 99.2,254.03 99.9,254.13 100.6,253.36 101.3,253.04 102,253.09 102.7,253.55 103.4,254 104.1,253.65 104.8,254.02 105.5,253 106.2,253.13 106.9,253.7 107.6,253.53 108.3,253.17 109,253.52 109.7,253.02 110.4,252.6 111.1,253.08 111.8,252.54 112.5,253.32 113.2,252.89 113.9,253.09 114.6,253.21 115.3,252.71 116,252.97 116.7,252.31 117.4,253.56 118.1,253.03 118.8,253.6 119.5,252.27 120.2,253.03 120.9,253.16 121.6,252.58 122.3,252.22 123,252.29 123.7,252.24 124.4,253.09 125.1,252.12 125.8,253.1 126.5,252.53 127.2,252.67 127.6,252.72 127.6,319.89 127.2,320.48 126.5,320.12 125.8,320.62 125.1,319.78 124.4,320.96 123.7,321.15 123,320.15 122.3,319.79 121.6,321.5 120.9,321.33 120.2,321.03 119.5,321.4 118.8,320.36 118.1,319.92 117.4,320.99 116.7,320.07 116,319.94 115.3,321.09 114.6,320.05 113.9,321.42 113.2,319.8 112.5,321.54 111.8,319.99 111.1,319.84 110.4,320.33 109.7,321.56 109,321.27 108.3,319.98 107.6,321.14 106.9,320.92 106.2,320.11 105.5,320.99 104.8,319.71 104.1,320.86 103.4,320.25 102.7,319.96 102,320.16 101.3,320.25 100.6,319.24 99.9,320.5 99.2,319.77 98.5,319.5 97.8,319.41 97.1,320.38 96.4,320.25 95.7,319.38 95,320.46 94.3,320.45 93.6,319.18 92.9,319.93 92.2,319.29 91.5,320.69 90.8,319.44 90.1,320.06 89.4,320.27 88.7,319.27 88,319.32 87.3,319.68 86.6,319.37 85.9,319.35 85.2,319.3 84.5,320.03 83.8,320.6 83.1,320.55 82.4,319.64 81.7,319.42 81,317.36 80.3,317.65 79.6,316.32 78.9,316.76 78.2,315.72 77.5,316.92 76.8,315.79 76.1,317.23 75.4,316.18 74.7,316.43 74,317.04 73.3,316.22 72.6,316.75 71.9,316.5 71.2,317.37 70.5,316.04 69.8,317 69.1,315.65 68.4,315.89 67.7,317.26 67,316.93 66.3,315.92 65.6,315.87 64.9,316.26 64.2,317.29 63.5,315.93 62.8,316.6 62.1,316.5 61.4,315.71 60.7,315.84 60,315.65 59.3,315.86 58.6,317.16 57.9,316.3 57.2,317.77 56.5,316.74 55.8,317.58 55.1,317.47 54.4,317.16 53.7,316.32 53,316.54 52.3,317.99 51.6,317.24 50.9,316.8 50.2,317.12 49.5,318.06 48.8,317.69 48.1,316.86 47.4,317.7 46.7,317.67 46,317.58 45.3,316.76 44.6,316.9 43.9,314.89 43.2,314.1 42.5,312.92 41.8,311.46" fill="#3a82bc" fill-opacity="0.58"/>
<path d="M41.8 251.66V311.46M43.9 251.83V314.89M46 252.37V317.58M48.1 252.23V316.86M50.2 252.2V317.12M52.3 251.88V317.99M54.4 252.97V317.16M56.5 252.89V316.74M58.6 252.88V317.16M60.7 252.72V315.84M62.8 252.78V316.6M64.9 253.01V316.26M67 253.15V316.93M69.1 254.05V315.65M71.2 253.7V317.37M73.3 252.99V316.22M75.4 253.92V316.18M77.5 253.38V316.92M79.6 253.01V316.32M81.7 254.28V319.42M83.8 253.5V320.6M85.9 253.58V319.35M88 253.26V319.32M90.1 253.28V320.06M92.2 253.46V319.29M94.3 254.11V320.45M96.4 253.93V320.25M98.5 253.01V319.5M100.6 253.36V319.24M102.7 253.55V319.96M104.8 254.02V319.71M106.9 253.7V320.92M109 253.52V321.27M111.1 253.08V319.84M113.2 252.89V319.8M115.3 252.71V321.09M117.4 253.56V320.99M119.5 252.27V321.4M121.6 252.58V321.5M123.7 252.24V321.15M125.8 253.1V320.62M127.6 252.72V319.89" stroke="#2f6fa8" stroke-width="0.3" opacity="0.3"/>
<path d="M45.5 252.14V316.7M51.04 252.58V316.7M58.52 253.18V316.21M64.65 253.67V316M71.91 254.1V316M77.65 254.1V316M84.13 254.1V319.3M89.9 254.1V319.3M96.26 254.1V319.3M102.11 254.02V319.49M108.98 253.77V320.11M114.78 253.56V320.17M121.76 253.31V320.13" stroke="#3a78b8" stroke-width="0.9" opacity="0.35"/>
<rect x="127.9" y="271.8" width="15.9" height="27.2" fill="#3a82bc" fill-opacity="0.58"/>
<path d="M132.3 252V310M135.2 260.5V300M140.2 248.2V298" stroke="#4a8cc4" stroke-width="0.8" opacity="0.8"/>
<line x1="233.2" y1="213.7" x2="256" y2="213.7" stroke="#eba3a3" stroke-width="1.4"/>
<line x1="233.2" y1="226.2" x2="256" y2="226.2" stroke="#b8d0e8" stroke-width="1"/>
<text x="258.66" y="217.7" font-size="10.9" text-anchor="start" fill="#1e1e1e" textLength="27" lengthAdjust="spacingAndGlyphs" stroke="#1e1e1e" stroke-width="0.18" stroke-linejoin="round" >CZHE</text>
<text x="258.66" y="230" font-size="10.9" text-anchor="start" fill="#1e1e1e" textLength="11.9" lengthAdjust="spacingAndGlyphs" stroke="#1e1e1e" stroke-width="0.18" stroke-linejoin="round" >LE</text>
<text x="46.3" y="217.1" font-size="10" text-anchor="start" fill="#1e1e1e" textLength="99.04" lengthAdjust="spacingAndGlyphs" stroke="#1e1e1e" stroke-width="0.18" stroke-linejoin="round" >1 mA cm<tspan dy="-4" font-size="6.8">-2</tspan><tspan dy="4">, 1mAh cm</tspan><tspan dy="-4" font-size="6.8">-2</tspan></text>
<rect x="41.5" y="205" width="385.5" height="158" fill="none" stroke="#262626" stroke-width="1.2"/>
<path d="M41.5 363v3M105.75 363v3M170 363v3M234.25 363v3M298.5 363v3M362.75 363v3M427 363v3M73.62 363v2M137.88 363v2M202.12 363v2M266.38 363v2M330.62 363v2M394.88 363v2" stroke="#262626" stroke-width="1.0" fill="none"/>
<text x="41.5" y="375.9" font-size="10.2" text-anchor="middle" fill="#1e1e1e" textLength="5.65" lengthAdjust="spacingAndGlyphs" stroke="#1e1e1e" stroke-width="0.18" stroke-linejoin="round" >0</text>
<text x="105.75" y="375.9" font-size="10.2" text-anchor="middle" fill="#1e1e1e" textLength="16.95" lengthAdjust="spacingAndGlyphs" stroke="#1e1e1e" stroke-width="0.18" stroke-linejoin="round" >200</text>
<text x="170" y="375.9" font-size="10.2" text-anchor="middle" fill="#1e1e1e" textLength="16.95" lengthAdjust="spacingAndGlyphs" stroke="#1e1e1e" stroke-width="0.18" stroke-linejoin="round" >400</text>
<text x="234.25" y="375.9" font-size="10.2" text-anchor="middle" fill="#1e1e1e" textLength="16.95" lengthAdjust="spacingAndGlyphs" stroke="#1e1e1e" stroke-width="0.18" stroke-linejoin="round" >600</text>
<text x="298.5" y="375.9" font-size="10.2" text-anchor="middle" fill="#1e1e1e" textLength="16.95" lengthAdjust="spacingAndGlyphs" stroke="#1e1e1e" stroke-width="0.18" stroke-linejoin="round" >800</text>
<text x="362.75" y="375.9" font-size="10.2" text-anchor="middle" fill="#1e1e1e" textLength="22.6" lengthAdjust="spacingAndGlyphs" stroke="#1e1e1e" stroke-width="0.18" stroke-linejoin="round" >1000</text>
<text x="427" y="375.9" font-size="10.2" text-anchor="middle" fill="#1e1e1e" textLength="22.6" lengthAdjust="spacingAndGlyphs" stroke="#1e1e1e" stroke-width="0.18" stroke-linejoin="round" >1200</text>
<path d="M41.5 363h-3M41.5 323.5h-3M41.5 284h-3M41.5 244.5h-3M41.5 205h-3M41.5 343.25h-2M41.5 303.75h-2M41.5 264.25h-2M41.5 224.75h-2" stroke="#262626" stroke-width="1.0" fill="none"/>
<text x="36.52" y="366.2" font-size="10.4" text-anchor="end" fill="#1e1e1e" textLength="23.22" lengthAdjust="spacingAndGlyphs" stroke="#1e1e1e" stroke-width="0.18" stroke-linejoin="round" >-0.10</text>
<text x="36.52" y="326.7" font-size="10.4" text-anchor="end" fill="#1e1e1e" textLength="23.22" lengthAdjust="spacingAndGlyphs" stroke="#1e1e1e" stroke-width="0.18" stroke-linejoin="round" >-0.05</text>
<text x="36.52" y="287.2" font-size="10.4" text-anchor="end" fill="#1e1e1e" textLength="19.83" lengthAdjust="spacingAndGlyphs" stroke="#1e1e1e" stroke-width="0.18" stroke-linejoin="round" >0.00</text>
<text x="36.52" y="247.7" font-size="10.4" text-anchor="end" fill="#1e1e1e" textLength="19.83" lengthAdjust="spacingAndGlyphs" stroke="#1e1e1e" stroke-width="0.18" stroke-linejoin="round" >0.05</text>
<text x="36.52" y="208.2" font-size="10.4" text-anchor="end" fill="#1e1e1e" textLength="19.83" lengthAdjust="spacingAndGlyphs" stroke="#1e1e1e" stroke-width="0.18" stroke-linejoin="round" >0.10</text>
<text x="211.12" y="393.9" font-size="12.1" text-anchor="start" fill="#1e1e1e" textLength="47.77" lengthAdjust="spacingAndGlyphs" stroke="#1e1e1e" stroke-width="0.18" stroke-linejoin="round" >Time (h)</text>
<text transform="translate(8.9,318.62) rotate(-90)" font-size="12.9" text-anchor="start" fill="#1e1e1e" textLength="70.03" lengthAdjust="spacingAndGlyphs" stroke="#1e1e1e" stroke-width="0.18" stroke-linejoin="round" >Potential (V)</text>
<text x="461.18" y="206.6" font-size="20.5" text-anchor="start" fill="#000" stroke="#000" stroke-width="0.18" stroke-linejoin="round" >e</text>
<clipPath id="ce"><rect x="501.5" y="205.4" width="181.8" height="154.6"/></clipPath>
<polyline points="501.55,298.61 502.02,300.16 502.33,297.39 503.94,309.43 504.1,268.91 504.46,267.37 504.72,269.68 506.64,252.04 506.75,298.16 507.21,299.71 507.53,297.39 509.14,308.99 509.29,268.02 509.66,266.48 509.91,268.79 511.84,254.61 511.94,298.33 512.41,299.88 512.72,297.39 514.33,309.16 514.49,268.36 514.85,266.82 515.11,269.14 517.03,259.3 517.13,297.62 517.6,299.16 517.91,297.39 519.52,308.44 519.68,266.93 520.04,265.38 520.3,267.7 522.23,253.74 522.33,297.89 522.8,299.44 523.11,297.39 524.72,308.71 524.87,267.48 525.24,265.93 525.5,268.25 527.42,258.06 527.52,300.08 527.99,301.63 528.3,298.93 529.91,310.13 530.07,267.99 530.43,266.44 530.69,268.76 532.61,260.17 532.72,300.21 533.19,301.75 533.5,298.93 535.11,310.25 535.26,268.24 535.63,266.69 535.89,269.01 537.81,261.79 537.91,299.7 538.38,301.24 538.69,298.93 540.3,309.74 540.46,267.22 540.82,265.67 541.08,267.99 543,258.51 543.11,299.64 543.57,301.19 543.89,298.93 545.5,309.69 545.65,267.11 546.02,265.56 546.27,267.88 548.2,258.68 548.3,300.27 548.77,301.82 549.08,298.93 550.69,310.32 550.85,268.37 551.21,266.83 551.47,269.15 553.39,257.94 553.49,302.62 553.96,304.17 554.27,302.02 555.88,313.44 556.04,263.79 556.4,262.25 556.66,264.57 558.59,254.25 558.69,302.74 559.16,304.29 559.47,302.02 561.08,313.56 561.23,264.03 561.6,262.49 561.86,264.81 563.78,253.58 563.88,302.24 564.35,303.78 564.66,302.02 566.27,313.06 566.43,263.03 566.79,261.48 567.05,263.8 568.97,251.44 569.08,302.55 569.55,304.09 569.86,302.02 571.47,313.37 571.62,263.64 571.99,262.1 572.25,264.42 574.17,254.99 574.27,303.01 574.74,304.55 575.05,302.02 576.66,313.83 576.82,264.57 577.18,263.02 577.44,265.34 579.36,255.79 579.47,309.98 579.93,311.53 580.25,309.75 581.86,330.08 582.01,253 582.38,251.46 582.63,253.78 584.56,246.74 584.66,310.66 585.13,312.21 585.44,309.75 587.05,335.4 587.21,254.36 587.57,252.82 587.83,255.14 589.75,241.78 589.85,310.94 590.32,312.49 590.63,309.75 592.24,338.77 592.4,254.93 592.76,253.38 593.02,255.7 594.95,236.38 595.05,311.1 595.52,312.65 595.83,309.75 597.44,341.25 597.59,255.25 597.96,253.7 598.22,256.02 600.14,239.12 600.24,310.03 600.71,311.58 601.02,309.75 602.63,336.32 602.79,253.11 603.15,251.56 603.41,253.88 605.33,244.58 605.44,296.49 605.91,298.03 606.22,295.84 607.83,307.31 607.98,267.76 608.35,266.21 608.61,268.53 610.53,260.79 610.63,296.91 611.1,298.46 611.41,295.84 613.02,307.74 613.18,268.61 613.54,267.07 613.8,269.39 615.72,262.75 615.83,297.06 616.29,298.61 616.61,295.84 618.22,307.88 618.37,268.9 618.74,267.36 618.99,269.68 620.92,259.05 621.02,296.28 621.49,297.83 621.8,295.84 623.41,307.11 623.57,267.35 623.93,265.81 624.19,268.13 626.11,257.1 626.21,297.14 626.68,298.68 626.99,295.84 628.6,307.96 628.76,269.06 629.12,267.51 629.38,269.83 631.31,260.13 631.41,293.73 631.88,295.27 632.19,292.75 633.8,302.23 633.95,270.74 634.32,269.19 634.58,271.51 636.5,262.88 636.6,293.47 637.07,295.01 637.38,292.75 638.99,301.97 639.15,270.22 639.51,268.67 639.77,270.99 641.69,264.4 641.8,292.98 642.27,294.52 642.58,292.75 644.19,301.48 644.34,269.24 644.71,267.69 644.97,270.01 646.89,265.37 646.99,293.24 647.46,294.78 647.77,292.75 649.38,301.74 649.54,269.76 649.9,268.22 650.16,270.53 652.08,260.62 652.19,293.51 652.65,295.06 652.97,292.75 654.58,302.01 654.73,270.31 655.1,268.76 655.35,271.08 657.28,262.78 657.38,291.4 657.85,292.95 658.16,291.2 659.77,298.36 659.93,271.5 660.29,269.96 660.55,272.28 662.47,266.96 662.57,291.83 663.04,293.37 663.35,291.2 664.96,298.78 665.12,272.35 665.48,270.8 665.74,273.12 667.67,264.66 667.77,292.12 668.24,293.66 668.55,291.2 670.16,299.07 670.31,272.93 670.68,271.39 670.94,273.7 672.86,265.44 672.96,292.1 673.43,293.65 673.74,291.2 675.35,299.06 675.51,272.9 675.87,271.35 676.13,273.67 678.05,266.55 678.16,291.85 678.63,293.39 678.94,291.2 680.55,298.8 680.7,272.39 681.07,270.84 681.33,273.16 683.25,265.11 683.35,292.18 683.82,293.73 684.13,291.2" fill="none" stroke="#db3a3e" stroke-width="0.75" stroke-linejoin="round" clip-path="url(#ce)"/>
<text x="503.88" y="248.7" font-size="8.1" text-anchor="start" fill="#1e1e1e" textLength="25.22" lengthAdjust="spacingAndGlyphs" stroke="#1e1e1e" stroke-width="0.15" stroke-linejoin="round" >0.5, 0.5</text>
<text x="537.68" y="245.6" font-size="8.1" text-anchor="start" fill="#1e1e1e" textLength="11.42" lengthAdjust="spacingAndGlyphs" stroke="#1e1e1e" stroke-width="0.15" stroke-linejoin="round" >1, 1</text>
<text x="560.68" y="242.7" font-size="8.1" text-anchor="start" fill="#1e1e1e" textLength="12.52" lengthAdjust="spacingAndGlyphs" stroke="#1e1e1e" stroke-width="0.15" stroke-linejoin="round" >2, 2</text>
<text x="585.08" y="228.1" font-size="8.1" text-anchor="start" fill="#1e1e1e" textLength="12.62" lengthAdjust="spacingAndGlyphs" stroke="#1e1e1e" stroke-width="0.15" stroke-linejoin="round" >5, 5</text>
<text x="612.78" y="242.5" font-size="8.1" text-anchor="start" fill="#1e1e1e" textLength="12.62" lengthAdjust="spacingAndGlyphs" stroke="#1e1e1e" stroke-width="0.15" stroke-linejoin="round" >2, 2</text>
<text x="638.68" y="244.4" font-size="8.1" text-anchor="start" fill="#1e1e1e" textLength="11.52" lengthAdjust="spacingAndGlyphs" stroke="#1e1e1e" stroke-width="0.15" stroke-linejoin="round" >1, 1</text>
<text x="656.48" y="249" font-size="8.1" text-anchor="start" fill="#1e1e1e" textLength="25.22" lengthAdjust="spacingAndGlyphs" stroke="#1e1e1e" stroke-width="0.15" stroke-linejoin="round" >0.5, 0.5</text>
<text x="605.9" y="216.8" font-size="7.6" text-anchor="start" fill="#1e1e1e" textLength="75.39" lengthAdjust="spacingAndGlyphs" stroke="#1e1e1e" stroke-width="0.14" stroke-linejoin="round" >mA cm<tspan dy="-3.2" font-size="5.4">-2</tspan><tspan dy="3.2">, mAh cm</tspan><tspan dy="-3.2" font-size="5.4">-2</tspan></text>
<text x="505.28" y="354.7" font-size="10.6" text-anchor="start" fill="#1e1e1e" textLength="46.98" lengthAdjust="spacingAndGlyphs" stroke="#1e1e1e" stroke-width="0.18" stroke-linejoin="round" >Zn||Zn cell</text>
<text x="599.18" y="354.5" font-size="10.6" text-anchor="start" fill="#1e1e1e" textLength="79.18" lengthAdjust="spacingAndGlyphs" stroke="#1e1e1e" stroke-width="0.18" stroke-linejoin="round" >Thickness: 15 μm</text>
<rect x="501.5" y="205.4" width="181.8" height="154.6" fill="none" stroke="#262626" stroke-width="1.2"/>
<path d="M501.5 360v3M553.44 360v3M605.39 360v3M657.33 360v3M527.47 360v2M579.41 360v2M631.36 360v2M683.3 360v2" stroke="#262626" stroke-width="1.0" fill="none"/>
<text x="501.5" y="372.6" font-size="10.6" text-anchor="middle" fill="#1e1e1e" textLength="5.78" lengthAdjust="spacingAndGlyphs" stroke="#1e1e1e" stroke-width="0.18" stroke-linejoin="round" >0</text>
<text x="553.44" y="372.6" font-size="10.6" text-anchor="middle" fill="#1e1e1e" textLength="11.56" lengthAdjust="spacingAndGlyphs" stroke="#1e1e1e" stroke-width="0.18" stroke-linejoin="round" >20</text>
<text x="605.39" y="372.6" font-size="10.6" text-anchor="middle" fill="#1e1e1e" textLength="11.56" lengthAdjust="spacingAndGlyphs" stroke="#1e1e1e" stroke-width="0.18" stroke-linejoin="round" >40</text>
<text x="657.33" y="372.6" font-size="10.6" text-anchor="middle" fill="#1e1e1e" textLength="11.56" lengthAdjust="spacingAndGlyphs" stroke="#1e1e1e" stroke-width="0.18" stroke-linejoin="round" >60</text>
<path d="M501.5 360h-3M501.5 321.35h-3M501.5 282.7h-3M501.5 244.05h-3M501.5 205.4h-3M501.5 340.68h-2M501.5 302.02h-2M501.5 263.38h-2M501.5 224.73h-2" stroke="#262626" stroke-width="1.0" fill="none"/>
<text x="497.21" y="363" font-size="10.2" text-anchor="end" fill="#1e1e1e" textLength="24.56" lengthAdjust="spacingAndGlyphs" stroke="#1e1e1e" stroke-width="0.18" stroke-linejoin="round" >−0.10</text>
<text x="497.21" y="324.35" font-size="10.2" text-anchor="end" fill="#1e1e1e" textLength="24.56" lengthAdjust="spacingAndGlyphs" stroke="#1e1e1e" stroke-width="0.18" stroke-linejoin="round" >−0.05</text>
<text x="497.21" y="285.7" font-size="10.2" text-anchor="end" fill="#1e1e1e" textLength="18.89" lengthAdjust="spacingAndGlyphs" stroke="#1e1e1e" stroke-width="0.18" stroke-linejoin="round" >0.00</text>
<text x="497.21" y="247.05" font-size="10.2" text-anchor="end" fill="#1e1e1e" textLength="18.89" lengthAdjust="spacingAndGlyphs" stroke="#1e1e1e" stroke-width="0.18" stroke-linejoin="round" >0.05</text>
<text x="497.21" y="208.4" font-size="10.2" text-anchor="end" fill="#1e1e1e" textLength="18.89" lengthAdjust="spacingAndGlyphs" stroke="#1e1e1e" stroke-width="0.18" stroke-linejoin="round" >0.10</text>
<text x="569.7" y="390.8" font-size="12.6" text-anchor="start" fill="#1e1e1e" textLength="45.81" lengthAdjust="spacingAndGlyphs" stroke="#1e1e1e" stroke-width="0.18" stroke-linejoin="round" >Time (h)</text>
<text transform="translate(465,316.36) rotate(-90)" font-size="11.4" text-anchor="start" fill="#1e1e1e" textLength="63.53" lengthAdjust="spacingAndGlyphs" stroke="#1e1e1e" stroke-width="0.18" stroke-linejoin="round" >Potential (V)</text>
<text x="9.6" y="426.9" font-size="20" text-anchor="start" fill="#000" stroke="#000" stroke-width="0.18" stroke-linejoin="round" >f</text>
<rect x="39.6" y="471.6" width="32" height="48.4" fill="#f9d5d5"/>
<rect x="71.6" y="467.6" width="34.9" height="57.4" fill="#fde4d6"/>
<rect x="106.5" y="460" width="33.8" height="69.5" fill="#e8f2dc"/>
<rect x="140.3" y="453.7" width="34.2" height="81.1" fill="#d6eadc"/>
<rect x="174.5" y="449" width="36.3" height="88.7" fill="#d3e1ef"/>
<line x1="71.8" y1="423" x2="71.8" y2="570" stroke="#c4c4c4" stroke-width="0.7" stroke-dasharray="2.6,2"/>
<line x1="106.5" y1="423" x2="106.5" y2="570" stroke="#c4c4c4" stroke-width="0.7" stroke-dasharray="2.6,2"/>
<line x1="140.5" y1="423" x2="140.5" y2="570" stroke="#c4c4c4" stroke-width="0.7" stroke-dasharray="2.6,2"/>
<line x1="174.7" y1="423" x2="174.7" y2="570" stroke="#c4c4c4" stroke-width="0.7" stroke-dasharray="2.6,2"/>
<polyline points="39.57,517.88 39.83,480.8 40.42,479.32 40.85,481.54 44.01,471.92 44.18,509.65 44.95,511.14 45.46,509.04 48.1,517.8 48.36,480.65 48.96,479.17 49.38,481.39 52.54,471.76 52.71,509.32 53.48,510.81 53.99,509.04 56.64,517.47 56.89,479.99 57.49,478.51 57.92,480.73 61.07,471.11 61.25,509.53 62.01,511.01 62.53,509.04 65.17,517.68 65.43,480.41 66.02,478.93 66.45,481.15 69.61,471.52 69.78,514.25 70.55,515.73 71.06,513.48 73.7,523.87 73.96,479.47 74.56,477.99 74.98,480.21 78.14,467.62 78.31,514.62 79.08,516.1 79.59,513.48 82.24,524.25 82.49,480.21 83.09,478.73 83.52,480.95 86.67,468.37 86.85,514.19 87.61,515.67 88.12,513.48 90.77,523.82 91.03,479.35 91.62,477.87 92.05,480.1 95.21,467.51 95.38,514.19 96.15,515.67 96.66,513.48 99.3,523.82 99.56,479.36 100.16,477.88 100.58,480.1 103.74,467.51 103.91,520.44 104.68,521.92 105.19,519.41 107.84,529.32 108.09,477.04 108.69,475.56 109.12,477.78 112.27,462.97 112.44,519.79 113.21,521.27 113.72,519.41 116.37,528.67 116.62,475.74 117.22,474.26 117.65,476.48 120.8,461.67 120.98,519.99 121.74,521.47 122.26,519.41 124.9,528.88 125.16,476.14 125.75,474.66 126.18,476.88 129.34,462.07 129.51,519.71 130.28,521.19 130.79,519.41 133.43,528.59 133.69,475.58 134.29,474.1 134.71,476.32 137.87,461.51 138.04,523.62 138.81,525.1 139.32,522.37 141.97,533.98 142.22,473.03 142.82,471.55 143.25,473.77 146.4,455.26 146.58,522.74 147.34,524.22 147.86,522.37 150.5,533.11 150.76,471.28 151.35,469.79 151.78,472.02 154.94,453.5 155.11,523.53 155.88,525.01 156.39,522.37 159.03,533.89 159.29,472.85 159.89,471.37 160.31,473.59 163.47,455.08 163.64,523.38 164.41,524.87 164.92,522.37 167.57,533.75 167.82,472.57 168.42,471.08 168.85,473.31 172,454.79 172.18,525.49 172.94,526.97 173.45,524.59 176.1,536.6 176.36,470.85 176.95,469.37 177.38,471.59 180.54,450.86 180.71,525.31 181.48,526.79 181.99,524.59 184.63,536.41 184.89,470.49 185.49,469 185.91,471.23 189.07,450.49 189.24,525.79 190.01,527.27 190.52,524.59 193.17,536.89 193.42,471.45 194.02,469.97 194.45,472.19 197.6,451.45 197.77,524.78 198.54,526.26 199.05,524.59 201.7,535.88 201.95,469.43 202.55,467.95 202.98,470.17 206.13,449.43 206.31,525.39 207.07,526.87 207.59,524.59" fill="none" stroke="#e8403a" stroke-width="0.95" stroke-linejoin="round" />
<text x="44.58" y="439.9" font-size="10.4" text-anchor="start" fill="#e8524a" textLength="24.97" lengthAdjust="spacingAndGlyphs" stroke="#e8524a" stroke-width="0.18" stroke-linejoin="round" >25 <tspan dy="-4.3" font-size="6.2">o</tspan><tspan dy="4.3">C</tspan></text>
<text x="78.08" y="439.9" font-size="10.4" text-anchor="start" fill="#f5a273" textLength="23.67" lengthAdjust="spacingAndGlyphs" stroke="#f5a273" stroke-width="0.18" stroke-linejoin="round" >20 <tspan dy="-4.3" font-size="6.2">o</tspan><tspan dy="4.3">C</tspan></text>
<text x="111.58" y="439.9" font-size="10.4" text-anchor="start" fill="#8cc65a" textLength="23.67" lengthAdjust="spacingAndGlyphs" stroke="#8cc65a" stroke-width="0.18" stroke-linejoin="round" >15 <tspan dy="-4.3" font-size="6.2">o</tspan><tspan dy="4.3">C</tspan></text>
<text x="145.08" y="439.9" font-size="10.4" text-anchor="start" fill="#3f9d6e" textLength="23.67" lengthAdjust="spacingAndGlyphs" stroke="#3f9d6e" stroke-width="0.18" stroke-linejoin="round" >10 <tspan dy="-4.3" font-size="6.2">o</tspan><tspan dy="4.3">C</tspan></text>
<text x="181.58" y="439.9" font-size="10.4" text-anchor="start" fill="#3d78bd" textLength="18.67" lengthAdjust="spacingAndGlyphs" stroke="#3d78bd" stroke-width="0.18" stroke-linejoin="round" >5 <tspan dy="-4.3" font-size="6.2">o</tspan><tspan dy="4.3">C</tspan></text>
<text x="126.96" y="567.9" font-size="8.6" text-anchor="start" fill="#1e1e1e" textLength="84.65" lengthAdjust="spacingAndGlyphs" stroke="#1e1e1e" stroke-width="0.15" stroke-linejoin="round" >1 mA cm<tspan dy="-3.5" font-size="5.8">-2</tspan><tspan dy="3.5">, 1 mAh cm</tspan><tspan dy="-3.5" font-size="5.8">-2</tspan></text>
<rect x="39.1" y="422.4" width="173.7" height="148.1" fill="none" stroke="#262626" stroke-width="1.2"/>
<path d="M39.1 570.5v3M60.81 570.5v3M82.53 570.5v3M104.24 570.5v3M125.95 570.5v3M147.66 570.5v3M169.38 570.5v3M191.09 570.5v3M212.8 570.5v3M49.96 570.5v2M71.67 570.5v2M93.38 570.5v2M115.09 570.5v2M136.81 570.5v2M158.52 570.5v2M180.23 570.5v2M201.94 570.5v2" stroke="#262626" stroke-width="1.0" fill="none"/>
<text x="39.1" y="582.6" font-size="10.3" text-anchor="middle" fill="#1e1e1e" textLength="5.14" lengthAdjust="spacingAndGlyphs" stroke="#1e1e1e" stroke-width="0.18" stroke-linejoin="round" >0</text>
<text x="60.81" y="582.6" font-size="10.3" text-anchor="middle" fill="#1e1e1e" textLength="5.14" lengthAdjust="spacingAndGlyphs" stroke="#1e1e1e" stroke-width="0.18" stroke-linejoin="round" >5</text>
<text x="82.53" y="582.6" font-size="10.3" text-anchor="middle" fill="#1e1e1e" textLength="10.28" lengthAdjust="spacingAndGlyphs" stroke="#1e1e1e" stroke-width="0.18" stroke-linejoin="round" >10</text>
<text x="104.24" y="582.6" font-size="10.3" text-anchor="middle" fill="#1e1e1e" textLength="10.28" lengthAdjust="spacingAndGlyphs" stroke="#1e1e1e" stroke-width="0.18" stroke-linejoin="round" >15</text>
<text x="125.95" y="582.6" font-size="10.3" text-anchor="middle" fill="#1e1e1e" textLength="10.28" lengthAdjust="spacingAndGlyphs" stroke="#1e1e1e" stroke-width="0.18" stroke-linejoin="round" >20</text>
<text x="147.66" y="582.6" font-size="10.3" text-anchor="middle" fill="#1e1e1e" textLength="10.28" lengthAdjust="spacingAndGlyphs" stroke="#1e1e1e" stroke-width="0.18" stroke-linejoin="round" >25</text>
<text x="169.38" y="582.6" font-size="10.3" text-anchor="middle" fill="#1e1e1e" textLength="10.28" lengthAdjust="spacingAndGlyphs" stroke="#1e1e1e" stroke-width="0.18" stroke-linejoin="round" >30</text>
<text x="191.09" y="582.6" font-size="10.3" text-anchor="middle" fill="#1e1e1e" textLength="10.28" lengthAdjust="spacingAndGlyphs" stroke="#1e1e1e" stroke-width="0.18" stroke-linejoin="round" >35</text>
<text x="212.8" y="582.6" font-size="10.3" text-anchor="middle" fill="#1e1e1e" textLength="10.28" lengthAdjust="spacingAndGlyphs" stroke="#1e1e1e" stroke-width="0.18" stroke-linejoin="round" >40</text>
<path d="M39.1 570.5h-3M39.1 533.48h-3M39.1 496.45h-3M39.1 459.42h-3M39.1 422.4h-3M39.1 551.99h-2M39.1 514.96h-2M39.1 477.94h-2M39.1 440.91h-2" stroke="#262626" stroke-width="1.0" fill="none"/>
<text x="34.82" y="573.5" font-size="10.4" text-anchor="end" fill="#1e1e1e" textLength="21.14" lengthAdjust="spacingAndGlyphs" stroke="#1e1e1e" stroke-width="0.18" stroke-linejoin="round" >-0.10</text>
<text x="34.82" y="536.48" font-size="10.4" text-anchor="end" fill="#1e1e1e" textLength="18.05" lengthAdjust="spacingAndGlyphs" stroke="#1e1e1e" stroke-width="0.18" stroke-linejoin="round" >0.05</text>
<text x="34.82" y="499.45" font-size="10.4" text-anchor="end" fill="#1e1e1e" textLength="18.05" lengthAdjust="spacingAndGlyphs" stroke="#1e1e1e" stroke-width="0.18" stroke-linejoin="round" >0.00</text>
<text x="34.82" y="462.42" font-size="10.4" text-anchor="end" fill="#1e1e1e" textLength="18.05" lengthAdjust="spacingAndGlyphs" stroke="#1e1e1e" stroke-width="0.18" stroke-linejoin="round" >0.05</text>
<text x="34.82" y="425.4" font-size="10.4" text-anchor="end" fill="#1e1e1e" textLength="18.05" lengthAdjust="spacingAndGlyphs" stroke="#1e1e1e" stroke-width="0.18" stroke-linejoin="round" >0.10</text>
<text x="104.52" y="599.7" font-size="11.9" text-anchor="start" fill="#1e1e1e" textLength="42.76" lengthAdjust="spacingAndGlyphs" stroke="#1e1e1e" stroke-width="0.18" stroke-linejoin="round" >Time (h)</text>
<text transform="translate(9.6,529.38) rotate(-90)" font-size="12" text-anchor="start" fill="#1e1e1e" textLength="63.57" lengthAdjust="spacingAndGlyphs" stroke="#1e1e1e" stroke-width="0.18" stroke-linejoin="round" >Potential (V)</text>
<text x="225.46" y="424.4" font-size="21" text-anchor="start" fill="#000" stroke="#000" stroke-width="0.18" stroke-linejoin="round" >g</text>
<path d="M270.3 434.51 L270.91 435.02 L271.52 435.84 L272.13 434.64 L272.74 434.83 L273.35 435.87 L273.95 435.7 L274.56 435.81 L275.17 435.7 L275.78 435.45 L276.39 435.48 L277 435.36 L277.6 435.29 L278.21 435.03 L278.82 435.2 L279.43 435.01 L280.04 434.95 L280.65 435.17 L281.25 435.15 L281.86 435.09 L282.47 435.2 L283.08 435.31 L283.69 435.44 L284.3 435.33 L284.9 435.34 L285.51 435.21 L286.12 435.3 L286.73 435.23 L287.34 435.13 L287.95 435.07 L288.55 435.22 L289.16 435.25 L289.77 435.26 L290.38 435.25 L290.99 435.58 L291.6 435.47 L292.2 435.66 L292.81 435.87 L293.42 435.87 L294.03 436.03 L294.64 436.14 L295.25 435.93 L295.85 436.02 L296.46 435.93 L297.07 435.88 L297.68 435.71 L298.29 435.71 L298.9 435.89 L299.5 435.72 L300.11 435.77 L300.72 435.8 L301.33 435.73 L301.94 435.9 L302.55 435.93 L303.15 435.83 L303.76 435.97 L304.37 435.94 L304.98 435.9 L305.59 435.74 L306.2 435.71 L306.8 435.61 L307.41 435.63 L308.02 435.67 L308.63 435.45 L309.24 435.47 L309.85 435.42 L310.45 435.47 L311.06 435.74 L311.67 435.79 L312.28 435.93 L312.89 435.81 L313.5 436.1 L314.1 436.16 L314.71 436 L315.32 436.06 L315.93 436.19 L316.54 435.98 L317.15 435.93 L317.75 435.96 L318.36 436.05 L318.97 435.84 L319.58 435.93 L320.19 435.9 L320.8 435.82 L321.4 435.92 L322.01 435.96 L322.62 436.22 L323.23 436.19 L323.84 436.15 L324.45 436.28 L325.05 435.93 L325.66 436.06 L326.27 435.96 L326.88 435.83 L327.49 435.73 L328.1 435.43 L328.7 435.42 L329.31 435.36 L329.92 435.34 L330.53 435.42 L331.14 435.35 L331.75 435.21 L332.35 435.27 L332.96 435.29 L333.57 435.5 L334.18 435.53 L334.79 435.57 L335.4 435.41 L336 435.42 L336.61 435.34 L337.22 435.28 L337.83 435.2 L338.44 435.23 L339.05 435.08 L339.65 435.27 L340.26 435.09 L340.87 435.26 L341.48 435.49 L342.09 435.51 L342.7 435.54 L343.3 435.66 L343.91 435.67 L344.52 435.78 L345.13 435.8 L345.74 435.63 L346.35 435.73 L346.95 435.54 L347.56 435.43 L348.17 435.41 L348.78 435.38 L349.39 435.18 L350 435.3 L350.6 435.16 L351.21 435.41 L351.82 435.33 L352.43 435.31 L353.04 435.52 L353.65 435.31 L354.25 435.55 L354.86 435.39 L355.47 435.48 L356.08 435.21 L356.69 435.26 L357.3 435.11 L357.9 435.14 L358.51 435.03 L359.12 435 L359.73 435.11 L360.34 435.17 L360.95 435.04 L361.55 435.33 L362.16 435.21 L362.77 435.54 L363.38 435.68 L363.99 435.79 L364.6 435.67 L365.2 435.68 L365.81 435.87 L366.42 435.81 L367.03 435.92 L367.64 435.71 L368.25 435.75 L368.85 435.89 L369.46 435.91 L370.07 435.74 L370.68 435.96 L371.29 435.78 L371.9 436.01 L372.5 436.09 L373.11 436.06 L373.72 436.19 L374.33 436.15 L374.94 436.27 L375.55 436.03 L376.15 436.14 L376.76 435.92 L377.37 436.03 L377.98 435.74 L378.59 435.59 L379.2 435.68 L379.8 435.73 L380.41 435.6 L381.02 435.52 L381.63 435.67 L382.24 435.62 L382.85 435.81 L383.45 435.77 L384.06 435.75 L384.67 435.88 L385.28 435.83 L385.89 436 L386.5 435.77 L387.1 435.95 L387.71 435.67 L388.32 435.61 L388.93 435.59 L389.54 435.7 L390.15 435.77 L390.75 435.79 L391.36 435.72 L391.97 435.87 L392.58 435.82 L393.19 436.15 L393.8 436.11 L394.4 436.05 L395.01 436.16 L395.62 436.17 L396.23 436.27 L396.84 436.19 L397.45 436.07 L398.05 435.78 L398.66 435.69 L399.27 435.77 L399.88 435.49 L400.49 435.69 L401.1 435.48 L401.7 435.35 L402.31 435.54 L402.92 435.37 L403.53 435.48 L404.14 436.52 L404.75 436.44 L405.35 436.38 L405.96 436.4 L406.57 436.19 L407.18 436.28 L407.79 436.01 L408.4 436.07 L409 436.06 L409.61 435.86 L410.22 435.97 L410.83 435.84 L411.44 434.95 L412.05 435.07 L412.65 435.19 L413.26 435.41 L413.87 435.37 L414.48 435.58 L415.09 435.49 L415.7 435.68 L416.3 435.57 L416.91 435.63 L417.52 435.59 L418.13 435.47 L418.74 435.57 L419.35 435.52 L419.95 435.26 L420.56 435.43 L421.17 435.29 L421.78 435.31 L422.39 435.47 L423 435.62 L423.6 435.69 L424.21 435.5 L424.82 435.75 L425.43 435.65 L426.04 435.61 L426.65 435.69 L427.25 435.51 L427.86 435.52 L428.47 435.31 L429.08 435.23 L429.69 435.2 L430.3 435.2 L430.9 435.12 L431.51 435.19 L432.12 435.25 L432.73 435.28 L433.34 435.18 L433.95 435.38 L434.55 435.35 L435.16 435.68 L435.77 435.46 L436.38 435.63 L436.99 435.56 L437.6 435.62 L438.2 435.57 L438.81 435.69 L439.42 435.53 L440.03 435.71 L440.64 435.7 L441.25 435.82 L441.85 435.78 L442.46 435.83 L443.07 436 L443.68 435.93 L444.29 436.26 L444.9 436.19 L445.5 436.34 L446.11 436.26 L446.72 436.19 L447.33 436.17 L447.94 436.3 L448.55 436.16 L449.15 435.97 L449.76 435.77 L450.37 435.98 L450.98 435.75 L451.59 435.7" stroke="#ff0a0a" stroke-width="4.6" stroke-linecap="round" fill="none"/>
<circle cx="270.3" cy="461.91" r="2.4" fill="url(#sR)"/>
<circle cx="270.61" cy="456.38" r="2.4" fill="url(#sR)"/>
<circle cx="270.91" cy="445.94" r="2.4" fill="url(#sR)"/>
<circle cx="270.61" cy="435.5" r="2.4" fill="url(#sR)"/>
<circle cx="271.22" cy="433.65" r="2.4" fill="url(#sR)"/>
<path d="M270.91 440.07 L271.22 440 L271.52 439.78 L271.82 439.75 L272.13 439.59 L272.43 439.72 L272.74 439.5 L273.04 439.58 L273.35 439.56 L273.65 439.6 L273.95 439.54 L274.26 439.39 L274.56 439.34 L274.87 439.37 L275.17 439.24 L275.48 439.18 L275.78 439.07 L276.08 438.97 L276.39 438.86 L276.69 438.67 L277 438.61 L277.3 438.63 L277.6 438.68 L277.91 438.7 L278.21 438.67 L278.52 438.69 L278.82 438.76 L279.12 438.82 L279.43 438.94 L279.73 438.87 L280.04 438.83 L280.34 438.82 L280.65 438.91 L280.95 438.73 L281.25 438.74 L281.56 438.71 L281.86 438.49 L282.17 438.49 L282.47 438.43 L282.77 438.52 L283.08 438.38 L283.38 438.38 L283.69 438.42 L283.99 438.5 L284.3 438.54 L284.6 438.6 L284.9 438.7 L285.21 438.77 L285.51 438.71 L285.82 438.73 L286.12 438.69 L286.43 438.77 L286.73 438.59 L287.03 438.62 L287.34 438.47 L287.64 438.58 L287.95 438.36 L288.25 438.36 L288.55 438.45 L288.86 438.34 L289.16 438.48 L289.47 438.53 L289.77 438.53" stroke="#245a8c" stroke-width="4.6" stroke-linecap="round" stroke-linejoin="round" fill="none"/>
<circle cx="270.3" cy="448.4" r="2.4" fill="url(#sG)"/>
<circle cx="270.46" cy="446.55" r="2.4" fill="url(#sG)"/>
<circle cx="270.61" cy="444.1" r="2.4" fill="url(#sG)"/>
<circle cx="289.77" cy="438.57" r="2.3" fill="url(#sG)"/>
<circle cx="289.2" cy="515.5" r="2.5" fill="url(#sG)"/>
<circle cx="290.2" cy="513.5" r="2.5" fill="url(#sG)"/>
<circle cx="290.5" cy="522.6" r="2.5" fill="url(#sG)"/>
<circle cx="290.3" cy="539.7" r="2.5" fill="url(#sG)"/>
<circle cx="289.7" cy="557.5" r="2.5" fill="url(#sG)"/>
<circle cx="370.6" cy="484.9" r="2.6" fill="url(#sR)"/>
<circle cx="370.6" cy="496.6" r="2.6" fill="url(#sG)"/>
<text x="383.68" y="488.6" font-size="10.5" text-anchor="start" fill="#1e1e1e" textLength="26.57" lengthAdjust="spacingAndGlyphs" stroke="#1e1e1e" stroke-width="0.18" stroke-linejoin="round" >CZHE</text>
<text x="383.68" y="499.9" font-size="10.5" text-anchor="start" fill="#1e1e1e" textLength="11.57" lengthAdjust="spacingAndGlyphs" stroke="#1e1e1e" stroke-width="0.18" stroke-linejoin="round" >LE</text>
<text x="350.4" y="564.3" font-size="9.9" text-anchor="start" fill="#1e1e1e" textLength="96.33" lengthAdjust="spacingAndGlyphs" stroke="#1e1e1e" stroke-width="0.18" stroke-linejoin="round" >1 mA cm<tspan dy="-4.3" font-size="6.5">-2</tspan><tspan dy="4.3"> 1 mAh cm</tspan><tspan dy="-4.3" font-size="6.5">-2</tspan></text>
<rect x="270" y="422.6" width="182.5" height="147.4" fill="none" stroke="#262626" stroke-width="1.2"/>
<path d="M270 570v3M300.42 570v3M330.83 570v3M361.25 570v3M391.67 570v3M422.08 570v3M452.5 570v3M285.21 570v2M315.62 570v2M346.04 570v2M376.46 570v2M406.88 570v2M437.29 570v2" stroke="#262626" stroke-width="1.0" fill="none"/>
<text x="270" y="582.6" font-size="10.4" text-anchor="middle" fill="#1e1e1e" textLength="5.49" lengthAdjust="spacingAndGlyphs" stroke="#1e1e1e" stroke-width="0.18" stroke-linejoin="round" >0</text>
<text x="300.42" y="582.6" font-size="10.4" text-anchor="middle" fill="#1e1e1e" textLength="16.47" lengthAdjust="spacingAndGlyphs" stroke="#1e1e1e" stroke-width="0.18" stroke-linejoin="round" >100</text>
<text x="330.83" y="582.6" font-size="10.4" text-anchor="middle" fill="#1e1e1e" textLength="16.47" lengthAdjust="spacingAndGlyphs" stroke="#1e1e1e" stroke-width="0.18" stroke-linejoin="round" >200</text>
<text x="361.25" y="582.6" font-size="10.4" text-anchor="middle" fill="#1e1e1e" textLength="16.47" lengthAdjust="spacingAndGlyphs" stroke="#1e1e1e" stroke-width="0.18" stroke-linejoin="round" >300</text>
<text x="391.67" y="582.6" font-size="10.4" text-anchor="middle" fill="#1e1e1e" textLength="16.47" lengthAdjust="spacingAndGlyphs" stroke="#1e1e1e" stroke-width="0.18" stroke-linejoin="round" >400</text>
<text x="422.08" y="582.6" font-size="10.4" text-anchor="middle" fill="#1e1e1e" textLength="16.47" lengthAdjust="spacingAndGlyphs" stroke="#1e1e1e" stroke-width="0.18" stroke-linejoin="round" >500</text>
<text x="452.5" y="582.6" font-size="10.4" text-anchor="middle" fill="#1e1e1e" textLength="16.47" lengthAdjust="spacingAndGlyphs" stroke="#1e1e1e" stroke-width="0.18" stroke-linejoin="round" >600</text>
<path d="M270 557.72h-3M270 533.15h-3M270 508.58h-3M270 484.02h-3M270 459.45h-3M270 434.88h-3M270 545.43h-2M270 520.87h-2M270 496.3h-2M270 471.73h-2M270 447.17h-2M270 422.6h-2" stroke="#262626" stroke-width="1.0" fill="none"/>
<text x="265.5" y="560.62" font-size="10" text-anchor="end" fill="#1e1e1e" textLength="5.53" lengthAdjust="spacingAndGlyphs" stroke="#1e1e1e" stroke-width="0.18" stroke-linejoin="round" >0</text>
<text x="265.5" y="536.05" font-size="10" text-anchor="end" fill="#1e1e1e" textLength="11.05" lengthAdjust="spacingAndGlyphs" stroke="#1e1e1e" stroke-width="0.18" stroke-linejoin="round" >20</text>
<text x="265.5" y="511.48" font-size="10" text-anchor="end" fill="#1e1e1e" textLength="11.05" lengthAdjust="spacingAndGlyphs" stroke="#1e1e1e" stroke-width="0.18" stroke-linejoin="round" >40</text>
<text x="265.5" y="486.92" font-size="10" text-anchor="end" fill="#1e1e1e" textLength="11.05" lengthAdjust="spacingAndGlyphs" stroke="#1e1e1e" stroke-width="0.18" stroke-linejoin="round" >60</text>
<text x="265.5" y="462.35" font-size="10" text-anchor="end" fill="#1e1e1e" textLength="11.05" lengthAdjust="spacingAndGlyphs" stroke="#1e1e1e" stroke-width="0.18" stroke-linejoin="round" >80</text>
<text x="265.5" y="437.78" font-size="10" text-anchor="end" fill="#1e1e1e" textLength="16.58" lengthAdjust="spacingAndGlyphs" stroke="#1e1e1e" stroke-width="0.18" stroke-linejoin="round" >100</text>
<text x="322.3" y="600.1" font-size="12.6" text-anchor="start" fill="#1e1e1e" textLength="77.51" lengthAdjust="spacingAndGlyphs" stroke="#1e1e1e" stroke-width="0.18" stroke-linejoin="round" >Cycle number</text>
<text transform="translate(244.6,564.91) rotate(-90)" font-size="12.8" text-anchor="start" fill="#1e1e1e" textLength="137.02" lengthAdjust="spacingAndGlyphs" stroke="#1e1e1e" stroke-width="0.18" stroke-linejoin="round" >Coulombic efficiency (%)</text>
<text x="461.3" y="426.4" font-size="20" text-anchor="start" fill="#000" stroke="#000" stroke-width="0.18" stroke-linejoin="round" >h</text>
<polyline points="502,510.31 504.02,510.3 506.04,510.28 508.06,510.27 510.08,510.26 512.1,510.24 514.12,510.23 516.14,510.22 518.16,510.2 520.18,510.19 522.2,510.18 524.22,510.16 526.24,510.15 528.26,510.14 530.29,510.12 532.31,510.11 534.33,510.1 536.35,510.08 538.37,510.07 540.39,510.06 542.41,510.04 544.43,510.03 546.45,510.02 548.47,510 550.49,509.99 552.51,509.98 554.53,509.96 556.55,509.95 558.57,509.94 560.59,509.92 562.61,509.91 564.63,509.9 566.65,509.88 568.67,509.87 570.69,509.86 572.71,509.84 574.73,509.83 576.75,509.81 578.77,509.8 580.79,509.79 582.81,509.77 584.84,509.76 586.86,509.75 588.88,509.73 590.9,509.72 592.92,509.71 594.94,509.69 596.96,509.68 598.98,509.67 601,509.65 603.02,509.64 605.04,509.63 607.06,509.61 609.08,509.6 611.1,509.59 613.12,509.57 615.14,509.56 617.16,509.55 619.18,509.53 621.2,509.52 623.22,509.51 625.24,509.49 627.26,509.48 629.28,509.47 631.3,509.45 633.32,509.44 635.34,509.43 637.36,509.41 639.39,509.4 641.41,509.39 643.43,509.37 645.45,509.36 647.47,509.35 649.49,509.33 651.51,509.32 653.53,508.91 655.55,506.44 657.57,500.01 659.59,487.74 661.61,467.73 663.63,438.09" fill="none" stroke="#cfe3f4" stroke-width="1.2" stroke-linejoin="round" />
<polyline points="502,532.08 504.05,532.11 506.1,532.15 508.15,532.19 510.2,532.22 512.26,532.26 514.31,532.3 516.36,532.34 518.41,532.37 520.46,532.41 522.51,532.45 524.56,532.48 526.61,532.52 528.66,532.56 530.72,532.59 532.77,532.63 534.82,532.67 536.87,532.71 538.92,532.74 540.97,532.78 543.02,532.82 545.07,532.85 547.12,532.89 549.18,532.93 551.23,532.97 553.28,533 555.33,533.04 557.38,533.08 559.43,533.11 561.48,533.15 563.53,533.19 565.59,533.23 567.64,533.26 569.69,533.3 571.74,533.34 573.79,533.37 575.84,533.41 577.89,533.45 579.94,533.49 581.99,533.52 584.05,533.56 586.1,533.6 588.15,533.63 590.2,533.67 592.25,533.71 594.3,533.75 596.35,533.78 598.4,533.82 600.45,533.86 602.51,533.89 604.56,533.93 606.61,533.97 608.66,534 610.71,534.04 612.76,534.08 614.81,534.12 616.86,534.15 618.91,534.19 620.97,534.23 623.02,534.26 625.07,534.3 627.12,534.34 629.17,534.38 631.22,534.41 633.27,534.45 635.32,534.49 637.38,534.52 639.43,534.56 641.48,534.6 643.53,534.64 645.58,534.67 647.63,534.71 649.68,534.75 651.73,534.78 653.78,534.82 655.84,534.86 657.89,534.9 659.94,534.93 661.99,534.97 664.04,535.01 666.09,535.04" fill="none" stroke="#cfe3f4" stroke-width="1.2" stroke-linejoin="round" />
<polyline points="502,510.97 504.03,510.96 506.06,510.94 508.09,510.93 510.12,510.92 512.15,510.9 514.18,510.89 516.21,510.87 518.25,510.86 520.28,510.85 522.31,510.83 524.34,510.82 526.37,510.81 528.4,510.79 530.43,510.78 532.46,510.77 534.49,510.75 536.52,510.74 538.55,510.72 540.58,510.71 542.61,510.7 544.64,510.68 546.67,510.67 548.7,510.66 550.74,510.64 552.77,510.63 554.8,510.62 556.83,510.6 558.86,510.59 560.89,510.58 562.92,510.56 564.95,510.55 566.98,510.53 569.01,510.52 571.04,510.51 573.07,510.49 575.1,510.48 577.13,510.47 579.16,510.45 581.19,510.44 583.23,510.43 585.26,510.41 587.29,510.4 589.32,510.38 591.35,510.37 593.38,510.36 595.41,510.34 597.44,510.33 599.47,510.32 601.5,510.3 603.53,510.29 605.56,510.28 607.59,510.26 609.62,510.25 611.65,510.24 613.68,510.22 615.71,510.21 617.75,510.19 619.78,510.18 621.81,510.17 623.84,510.15 625.87,510.14 627.9,510.13 629.93,510.11 631.96,510.1 633.99,510.09 636.02,510.07 638.05,510.06 640.08,510.04 642.11,510.03 644.14,510.02 646.17,510 648.2,509.99 650.24,509.97 652.27,509.43 654.3,507.21 656.33,502.29 658.36,493.77 660.39,480.76 662.42,462.47 664.45,438.09" fill="none" stroke="#a9cfee" stroke-width="1.2" stroke-linejoin="round" />
<polyline points="502,531.25 504.05,531.29 506.1,531.33 508.15,531.36 510.2,531.4 512.26,531.44 514.31,531.47 516.36,531.51 518.41,531.55 520.46,531.59 522.51,531.62 524.56,531.66 526.61,531.7 528.66,531.73 530.72,531.77 532.77,531.81 534.82,531.84 536.87,531.88 538.92,531.92 540.97,531.96 543.02,531.99 545.07,532.03 547.12,532.07 549.18,532.1 551.23,532.14 553.28,532.18 555.33,532.22 557.38,532.25 559.43,532.29 561.48,532.33 563.53,532.36 565.59,532.4 567.64,532.44 569.69,532.48 571.74,532.51 573.79,532.55 575.84,532.59 577.89,532.62 579.94,532.66 581.99,532.7 584.05,532.74 586.1,532.77 588.15,532.81 590.2,532.85 592.25,532.88 594.3,532.92 596.35,532.96 598.4,532.99 600.45,533.03 602.51,533.07 604.56,533.11 606.61,533.14 608.66,533.18 610.71,533.22 612.76,533.25 614.81,533.29 616.86,533.33 618.91,533.37 620.97,533.4 623.02,533.44 625.07,533.48 627.12,533.51 629.17,533.55 631.22,533.59 633.27,533.63 635.32,533.66 637.38,533.7 639.43,533.74 641.48,533.77 643.53,533.81 645.58,533.85 647.63,533.89 649.68,533.92 651.73,533.96 653.78,534 655.84,534.03 657.89,534.07 659.94,534.11 661.99,534.14 664.04,534.18 666.09,534.22" fill="none" stroke="#a9cfee" stroke-width="1.2" stroke-linejoin="round" />
<polyline points="502,511.96 504.03,511.95 506.06,511.93 508.09,511.92 510.12,511.9 512.15,511.89 514.18,511.88 516.21,511.86 518.25,511.85 520.28,511.84 522.31,511.82 524.34,511.81 526.37,511.79 528.4,511.78 530.43,511.77 532.46,511.75 534.49,511.74 536.52,511.73 538.55,511.71 540.58,511.7 542.61,511.68 544.64,511.67 546.67,511.66 548.7,511.64 550.74,511.63 552.77,511.62 554.8,511.6 556.83,511.59 558.86,511.57 560.89,511.56 562.92,511.55 564.95,511.53 566.98,511.52 569.01,511.51 571.04,511.49 573.07,511.48 575.1,511.46 577.13,511.45 579.16,511.44 581.19,511.42 583.23,511.41 585.26,511.4 587.29,511.38 589.32,511.37 591.35,511.35 593.38,511.34 595.41,511.33 597.44,511.31 599.47,511.3 601.5,511.29 603.53,511.27 605.56,511.26 607.59,511.24 609.62,511.23 611.65,511.22 613.68,511.2 615.71,511.19 617.75,511.18 619.78,511.16 621.81,511.15 623.84,511.13 625.87,511.12 627.9,511.11 629.93,511.09 631.96,511.08 633.99,511.06 636.02,511.05 638.05,511.04 640.08,511.02 642.11,511.01 644.14,511 646.17,510.98 648.2,510.97 650.24,510.49 652.27,508.52 654.3,504.43 656.33,497.76 658.36,488.12 660.39,475.17 662.42,458.59 664.45,438.09" fill="none" stroke="#86bde6" stroke-width="1.2" stroke-linejoin="round" />
<polyline points="502,530.43 504.05,530.46 506.1,530.49 508.15,530.52 510.2,530.55 512.26,530.58 514.31,530.61 516.36,530.64 518.41,530.67 520.46,530.7 522.51,530.74 524.56,530.77 526.61,530.8 528.66,530.83 530.72,530.86 532.77,530.89 534.82,530.92 536.87,530.95 538.92,530.98 540.97,531.01 543.02,531.04 545.07,531.08 547.12,531.11 549.18,531.14 551.23,531.17 553.28,531.2 555.33,531.23 557.38,531.26 559.43,531.29 561.48,531.32 563.53,531.35 565.59,531.39 567.64,531.42 569.69,531.45 571.74,531.48 573.79,531.51 575.84,531.54 577.89,531.57 579.94,531.6 581.99,531.63 584.05,531.66 586.1,531.69 588.15,531.73 590.2,531.76 592.25,531.79 594.3,531.82 596.35,531.85 598.4,531.88 600.45,531.91 602.51,531.94 604.56,531.97 606.61,532 608.66,532.03 610.71,532.07 612.76,532.1 614.81,532.13 616.86,532.16 618.91,532.19 620.97,532.22 623.02,532.25 625.07,532.28 627.12,532.31 629.17,532.34 631.22,532.37 633.27,532.41 635.32,532.44 637.38,532.47 639.43,532.5 641.48,532.53 643.53,532.56 645.58,532.59 647.63,532.62 649.68,532.65 651.73,532.68 653.78,532.71 655.84,532.75 657.89,532.78 659.94,532.81 661.99,532.84 664.04,532.87 666.09,532.9" fill="none" stroke="#86bde6" stroke-width="1.2" stroke-linejoin="round" />
<polyline points="502,515.59 504.04,515.58 506.08,515.57 508.12,515.56 510.16,515.55 512.2,515.54 514.25,515.53 516.29,515.52 518.33,515.51 520.37,515.5 522.41,515.49 524.45,515.48 526.49,515.47 528.53,515.46 530.57,515.45 532.61,515.45 534.65,515.44 536.69,515.43 538.74,515.42 540.78,515.41 542.82,515.4 544.86,515.39 546.9,515.38 548.94,515.37 550.98,515.36 553.02,515.35 555.06,515.34 557.1,515.33 559.14,515.32 561.19,515.31 563.23,515.3 565.27,515.29 567.31,515.28 569.35,515.28 571.39,515.27 573.43,515.26 575.47,515.25 577.51,515.24 579.55,515.23 581.59,515.22 583.64,515.21 585.68,515.2 587.72,515.19 589.76,515.18 591.8,515.17 593.84,515.16 595.88,515.15 597.92,515.14 599.96,515.13 602,515.12 604.04,515.12 606.08,515.11 608.13,515.1 610.17,515.09 612.21,515.08 614.25,515.07 616.29,515.06 618.33,515.05 620.37,515.04 622.41,515.03 624.45,515.02 626.49,515.01 628.53,515 630.58,514.99 632.62,514.98 634.66,514.97 636.7,514.96 638.74,514.95 640.78,514.95 642.82,514.94 644.86,514.93 646.9,514.39 648.94,512.6 650.98,509.35 653.03,504.52 655.07,498.02 657.11,489.77 659.15,479.7 661.19,467.77 663.23,453.91 665.27,438.09" fill="none" stroke="#5a9fd6" stroke-width="1.2" stroke-linejoin="round" />
<polyline points="502,527.13 504.05,527.14 506.1,527.15 508.15,527.17 510.2,527.18 512.26,527.19 514.31,527.2 516.36,527.22 518.41,527.23 520.46,527.24 522.51,527.25 524.56,527.26 526.61,527.28 528.66,527.29 530.72,527.3 532.77,527.31 534.82,527.33 536.87,527.34 538.92,527.35 540.97,527.36 543.02,527.38 545.07,527.39 547.12,527.4 549.18,527.41 551.23,527.43 553.28,527.44 555.33,527.45 557.38,527.46 559.43,527.48 561.48,527.49 563.53,527.5 565.59,527.51 567.64,527.52 569.69,527.54 571.74,527.55 573.79,527.56 575.84,527.57 577.89,527.59 579.94,527.6 581.99,527.61 584.05,527.62 586.1,527.64 588.15,527.65 590.2,527.66 592.25,527.67 594.3,527.69 596.35,527.7 598.4,527.71 600.45,527.72 602.51,527.73 604.56,527.75 606.61,527.76 608.66,527.77 610.71,527.78 612.76,527.8 614.81,527.81 616.86,527.82 618.91,527.83 620.97,527.85 623.02,527.86 625.07,527.87 627.12,527.88 629.17,527.9 631.22,527.91 633.27,527.92 635.32,527.93 637.38,527.95 639.43,527.96 641.48,527.97 643.53,527.98 645.58,527.99 647.63,528.01 649.68,528.02 651.73,528.03 653.78,528.04 655.84,528.06 657.89,528.07 659.94,528.08 661.99,528.09 664.04,528.11 666.09,528.12" fill="none" stroke="#5a9fd6" stroke-width="1.2" stroke-linejoin="round" />
<polyline points="502,516.25 504.05,516.24 506.1,516.23 508.15,516.22 510.2,516.21 512.26,516.2 514.31,516.19 516.36,516.18 518.41,516.17 520.46,516.16 522.51,516.15 524.56,516.14 526.61,516.13 528.66,516.12 530.72,516.11 532.77,516.1 534.82,516.09 536.87,516.08 538.92,516.07 540.97,516.06 543.02,516.05 545.07,516.04 547.12,516.03 549.18,516.02 551.23,516.01 553.28,516 555.33,515.99 557.38,515.98 559.43,515.97 561.48,515.96 563.53,515.95 565.59,515.94 567.64,515.93 569.69,515.92 571.74,515.91 573.79,515.9 575.84,515.89 577.89,515.88 579.94,515.87 581.99,515.86 584.05,515.85 586.1,515.84 588.15,515.83 590.2,515.82 592.25,515.81 594.3,515.8 596.35,515.79 598.4,515.78 600.45,515.78 602.51,515.77 604.56,515.76 606.61,515.75 608.66,515.74 610.71,515.73 612.76,515.72 614.81,515.71 616.86,515.7 618.91,515.69 620.97,515.68 623.02,515.67 625.07,515.66 627.12,515.65 629.17,515.64 631.22,515.63 633.27,515.62 635.32,515.61 637.38,515.6 639.43,515.59 641.48,515.06 643.53,513.32 645.58,510.56 647.63,506.88 649.68,502.33 651.73,496.95 653.78,490.77 655.84,483.81 657.89,476.11 659.94,467.67 661.99,458.51 664.04,448.64 666.09,438.09" fill="none" stroke="#3a86c6" stroke-width="1.2" stroke-linejoin="round" />
<polyline points="502,526.47 504.05,526.49 506.1,526.51 508.15,526.52 510.2,526.54 512.26,526.56 514.31,526.58 516.36,526.6 518.41,526.62 520.46,526.64 522.51,526.65 524.56,526.67 526.61,526.69 528.66,526.71 530.72,526.73 532.77,526.75 534.82,526.77 536.87,526.78 538.92,526.8 540.97,526.82 543.02,526.84 545.07,526.86 547.12,526.88 549.18,526.9 551.23,526.91 553.28,526.93 555.33,526.95 557.38,526.97 559.43,526.99 561.48,527.01 563.53,527.03 565.59,527.04 567.64,527.06 569.69,527.08 571.74,527.1 573.79,527.12 575.84,527.14 577.89,527.16 579.94,527.17 581.99,527.19 584.05,527.21 586.1,527.23 588.15,527.25 590.2,527.27 592.25,527.29 594.3,527.3 596.35,527.32 598.4,527.34 600.45,527.36 602.51,527.38 604.56,527.4 606.61,527.42 608.66,527.43 610.71,527.45 612.76,527.47 614.81,527.49 616.86,527.51 618.91,527.53 620.97,527.55 623.02,527.56 625.07,527.58 627.12,527.6 629.17,527.62 631.22,527.64 633.27,527.66 635.32,527.68 637.38,527.69 639.43,527.71 641.48,527.73 643.53,527.75 645.58,527.77 647.63,527.79 649.68,527.8 651.73,527.82 653.78,527.84 655.84,527.86 657.89,527.88 659.94,527.9 661.99,527.92 664.04,527.93 666.09,527.95" fill="none" stroke="#3a86c6" stroke-width="1.2" stroke-linejoin="round" />
<polyline points="502,516.25 504.05,516.24 506.1,516.23 508.15,516.22 510.2,516.21 512.26,516.2 514.31,516.19 516.36,516.18 518.41,516.17 520.46,516.16 522.51,516.15 524.56,516.14 526.61,516.13 528.66,516.12 530.72,516.11 532.77,516.1 534.82,516.09 536.87,516.08 538.92,516.07 540.97,516.06 543.02,516.05 545.07,516.04 547.12,516.03 549.18,516.01 551.23,516 553.28,515.99 555.33,515.98 557.38,515.97 559.43,515.96 561.48,515.95 563.53,515.94 565.59,515.93 567.64,515.92 569.69,515.91 571.74,515.9 573.79,515.89 575.84,515.88 577.89,515.87 579.94,515.86 581.99,515.85 584.05,515.84 586.1,515.83 588.15,515.82 590.2,515.81 592.25,515.8 594.3,515.79 596.35,515.78 598.4,515.77 600.45,515.76 602.51,515.75 604.56,515.74 606.61,515.73 608.66,515.72 610.71,515.71 612.76,515.7 614.81,515.69 616.86,515.68 618.91,515.67 620.97,515.66 623.02,515.65 625.07,515.64 627.12,515.63 629.17,515.62 631.22,515.61 633.27,515.6 635.32,515.59 637.38,515.34 639.43,513.73 641.48,511.18 643.53,507.89 645.58,503.96 647.63,499.45 649.68,494.41 651.73,488.88 653.78,482.87 655.84,476.42 657.89,469.54 659.94,462.26 661.99,454.58 664.04,446.52 666.09,438.09" fill="none" stroke="#2c74bd" stroke-width="1.2" stroke-linejoin="round" />
<polyline points="502,526.3 504.05,526.32 506.1,526.34 508.15,526.36 510.2,526.38 512.26,526.4 514.31,526.42 516.36,526.43 518.41,526.45 520.46,526.47 522.51,526.49 524.56,526.51 526.61,526.53 528.66,526.55 530.72,526.56 532.77,526.58 534.82,526.6 536.87,526.62 538.92,526.64 540.97,526.66 543.02,526.68 545.07,526.69 547.12,526.71 549.18,526.73 551.23,526.75 553.28,526.77 555.33,526.79 557.38,526.81 559.43,526.82 561.48,526.84 563.53,526.86 565.59,526.88 567.64,526.9 569.69,526.92 571.74,526.94 573.79,526.95 575.84,526.97 577.89,526.99 579.94,527.01 581.99,527.03 584.05,527.05 586.1,527.06 588.15,527.08 590.2,527.1 592.25,527.12 594.3,527.14 596.35,527.16 598.4,527.18 600.45,527.19 602.51,527.21 604.56,527.23 606.61,527.25 608.66,527.27 610.71,527.29 612.76,527.31 614.81,527.32 616.86,527.34 618.91,527.36 620.97,527.38 623.02,527.4 625.07,527.42 627.12,527.44 629.17,527.45 631.22,527.47 633.27,527.49 635.32,527.51 637.38,527.53 639.43,527.55 641.48,527.57 643.53,527.58 645.58,527.6 647.63,527.62 649.68,527.64 651.73,527.66 653.78,527.68 655.84,527.7 657.89,527.71 659.94,527.73 661.99,527.75 664.04,527.77 666.09,527.79" fill="none" stroke="#2c74bd" stroke-width="1.2" stroke-linejoin="round" />
<polyline points="502,516.25 504.05,516.24 506.1,516.23 508.15,516.21 510.2,516.2 512.26,516.19 514.31,516.18 516.36,516.17 518.41,516.16 520.46,516.15 522.51,516.14 524.56,516.13 526.61,516.12 528.66,516.11 530.72,516.1 532.77,516.09 534.82,516.08 536.87,516.07 538.92,516.06 540.97,516.05 543.02,516.04 545.07,516.03 547.12,516.02 549.18,516.01 551.23,516 553.28,515.99 555.33,515.97 557.38,515.96 559.43,515.95 561.48,515.94 563.53,515.93 565.59,515.92 567.64,515.91 569.69,515.9 571.74,515.89 573.79,515.88 575.84,515.87 577.89,515.86 579.94,515.85 581.99,515.84 584.05,515.83 586.1,515.82 588.15,515.81 590.2,515.8 592.25,515.79 594.3,515.78 596.35,515.77 598.4,515.76 600.45,515.75 602.51,515.73 604.56,515.72 606.61,515.71 608.66,515.7 610.71,515.69 612.76,515.68 614.81,515.67 616.86,515.66 618.91,515.65 620.97,515.64 623.02,515.63 625.07,515.62 627.12,515.61 629.17,515.6 631.22,515.59 633.27,514.78 635.32,512.87 637.38,510.31 639.43,507.25 641.48,503.75 643.53,499.87 645.58,495.63 647.63,491.07 649.68,486.21 651.73,481.06 653.78,475.64 655.84,469.97 657.89,464.05 659.94,457.89 661.99,451.51 664.04,444.9 666.09,438.09" fill="none" stroke="#2a5ca5" stroke-width="1.2" stroke-linejoin="round" />
<polyline points="502,526.14 504.05,526.16 506.1,526.18 508.15,526.2 510.2,526.22 512.26,526.24 514.31,526.26 516.36,526.28 518.41,526.3 520.46,526.33 522.51,526.35 524.56,526.37 526.61,526.39 528.66,526.41 530.72,526.43 532.77,526.45 534.82,526.47 536.87,526.49 538.92,526.51 540.97,526.53 543.02,526.55 545.07,526.57 547.12,526.59 549.18,526.61 551.23,526.63 553.28,526.65 555.33,526.68 557.38,526.7 559.43,526.72 561.48,526.74 563.53,526.76 565.59,526.78 567.64,526.8 569.69,526.82 571.74,526.84 573.79,526.86 575.84,526.88 577.89,526.9 579.94,526.92 581.99,526.94 584.05,526.96 586.1,526.98 588.15,527.01 590.2,527.03 592.25,527.05 594.3,527.07 596.35,527.09 598.4,527.11 600.45,527.13 602.51,527.15 604.56,527.17 606.61,527.19 608.66,527.21 610.71,527.23 612.76,527.25 614.81,527.27 616.86,527.29 618.91,527.31 620.97,527.34 623.02,527.36 625.07,527.38 627.12,527.4 629.17,527.42 631.22,527.44 633.27,527.46 635.32,527.48 637.38,527.5 639.43,527.52 641.48,527.54 643.53,527.56 645.58,527.58 647.63,527.6 649.68,527.62 651.73,527.64 653.78,527.66 655.84,527.69 657.89,527.71 659.94,527.73 661.99,527.75 664.04,527.77 666.09,527.79" fill="none" stroke="#2a5ca5" stroke-width="1.2" stroke-linejoin="round" />
<polyline points="502,520.53 503.64,517.9 510.2,516.91 551.23,516.41 600.45,515.92 613.58,514.93 618.5,513.11 621.79,507.34 625.07,490.85 627.53,471.07 629.17,451.28 629.99,438.09" fill="none" stroke="#24407f" stroke-width="1.2" stroke-linejoin="round" />
<polyline points="502,543.62 502.66,537.02 504.46,533.72 510.2,531.42 526.61,530.1 567.64,528.94 616.86,528.28 666.09,527.95" fill="none" stroke="#24407f" stroke-width="1.2" stroke-linejoin="round" />
<line x1="507.2" y1="429.2" x2="523.8" y2="429.2" stroke="#24407f" stroke-width="1.4"/>
<text x="526.2" y="431.7" font-size="7.4" text-anchor="start" fill="#1e1e1e" stroke="#1e1e1e" stroke-width="0.13" stroke-linejoin="round" >1<tspan dy="-2.8" font-size="4.8">st</tspan><tspan dy="2.8"> 77.98%</tspan></text>
<line x1="507.2" y1="439.23" x2="523.8" y2="439.23" stroke="#2a5ca5" stroke-width="1.4"/>
<text x="526.2" y="441.73" font-size="7.4" text-anchor="start" fill="#1e1e1e" stroke="#1e1e1e" stroke-width="0.13" stroke-linejoin="round" >50<tspan dy="-2.8" font-size="4.8">th</tspan><tspan dy="2.8"> 99.19%</tspan></text>
<line x1="507.2" y1="449.26" x2="523.8" y2="449.26" stroke="#2c74bd" stroke-width="1.4"/>
<text x="526.2" y="451.76" font-size="7.4" text-anchor="start" fill="#1e1e1e" stroke="#1e1e1e" stroke-width="0.13" stroke-linejoin="round" >100<tspan dy="-2.8" font-size="4.8">th</tspan><tspan dy="2.8"> 99.36%</tspan></text>
<line x1="507.2" y1="459.29" x2="523.8" y2="459.29" stroke="#3a86c6" stroke-width="1.4"/>
<text x="526.2" y="461.79" font-size="7.4" text-anchor="start" fill="#1e1e1e" stroke="#1e1e1e" stroke-width="0.13" stroke-linejoin="round" >200<tspan dy="-2.8" font-size="4.8">th</tspan><tspan dy="2.8"> 98.92%</tspan></text>
<line x1="507.2" y1="469.32" x2="523.8" y2="469.32" stroke="#5a9fd6" stroke-width="1.4"/>
<text x="526.2" y="471.82" font-size="7.4" text-anchor="start" fill="#1e1e1e" stroke="#1e1e1e" stroke-width="0.13" stroke-linejoin="round" >300<tspan dy="-2.8" font-size="4.8">th</tspan><tspan dy="2.8"> 99.50%</tspan></text>
<line x1="507.2" y1="479.35" x2="523.8" y2="479.35" stroke="#86bde6" stroke-width="1.4"/>
<text x="526.2" y="481.85" font-size="7.4" text-anchor="start" fill="#1e1e1e" stroke="#1e1e1e" stroke-width="0.13" stroke-linejoin="round" >400<tspan dy="-2.8" font-size="4.8">th</tspan><tspan dy="2.8"> 99.61%</tspan></text>
<line x1="507.2" y1="489.38" x2="523.8" y2="489.38" stroke="#a9cfee" stroke-width="1.4"/>
<text x="526.2" y="491.88" font-size="7.4" text-anchor="start" fill="#1e1e1e" stroke="#1e1e1e" stroke-width="0.13" stroke-linejoin="round" >500<tspan dy="-2.8" font-size="4.8">th</tspan><tspan dy="2.8"> 99.72%</tspan></text>
<line x1="507.2" y1="499.41" x2="523.8" y2="499.41" stroke="#cfe3f4" stroke-width="1.4"/>
<text x="526.2" y="501.91" font-size="7.4" text-anchor="start" fill="#1e1e1e" stroke="#1e1e1e" stroke-width="0.13" stroke-linejoin="round" >600<tspan dy="-2.8" font-size="4.8">th</tspan><tspan dy="2.8"> 99.64%</tspan></text>
<text x="503.62" y="565.9" font-size="9.5" text-anchor="start" fill="#1e1e1e" textLength="97.11" lengthAdjust="spacingAndGlyphs" stroke="#1e1e1e" stroke-width="0.17" stroke-linejoin="round" >1 mA cm<tspan dy="-4" font-size="6.4">-2</tspan><tspan dy="4">, 1 mAh cm</tspan><tspan dy="-4" font-size="6.4">-2</tspan></text>
<text x="617.72" y="565.7" font-size="9.5" text-anchor="start" fill="#1e1e1e" textLength="24.11" lengthAdjust="spacingAndGlyphs" stroke="#1e1e1e" stroke-width="0.17" stroke-linejoin="round" >Zn||Ti</text>
<text x="654.52" y="565.7" font-size="9.5" text-anchor="start" fill="#1e1e1e" textLength="25.71" lengthAdjust="spacingAndGlyphs" stroke="#1e1e1e" stroke-width="0.17" stroke-linejoin="round" >CZHE</text>
<rect x="502" y="421.6" width="180.5" height="148.4" fill="none" stroke="#262626" stroke-width="1.2"/>
<path d="M502 570v3M534.82 570v3M567.64 570v3M600.45 570v3M633.27 570v3M666.09 570v3M518.41 570v2M551.23 570v2M584.05 570v2M616.86 570v2M649.68 570v2M682.5 570v2" stroke="#262626" stroke-width="1.0" fill="none"/>
<text x="502" y="582.6" font-size="10.5" text-anchor="middle" fill="#1e1e1e" textLength="15.05" lengthAdjust="spacingAndGlyphs" stroke="#1e1e1e" stroke-width="0.18" stroke-linejoin="round" >0.0</text>
<text x="534.82" y="582.6" font-size="10.5" text-anchor="middle" fill="#1e1e1e" textLength="15.05" lengthAdjust="spacingAndGlyphs" stroke="#1e1e1e" stroke-width="0.18" stroke-linejoin="round" >0.2</text>
<text x="567.64" y="582.6" font-size="10.5" text-anchor="middle" fill="#1e1e1e" textLength="15.05" lengthAdjust="spacingAndGlyphs" stroke="#1e1e1e" stroke-width="0.18" stroke-linejoin="round" >0.4</text>
<text x="600.45" y="582.6" font-size="10.5" text-anchor="middle" fill="#1e1e1e" textLength="15.05" lengthAdjust="spacingAndGlyphs" stroke="#1e1e1e" stroke-width="0.18" stroke-linejoin="round" >0.6</text>
<text x="633.27" y="582.6" font-size="10.5" text-anchor="middle" fill="#1e1e1e" textLength="15.05" lengthAdjust="spacingAndGlyphs" stroke="#1e1e1e" stroke-width="0.18" stroke-linejoin="round" >0.8</text>
<text x="666.09" y="582.6" font-size="10.5" text-anchor="middle" fill="#1e1e1e" textLength="15.05" lengthAdjust="spacingAndGlyphs" stroke="#1e1e1e" stroke-width="0.18" stroke-linejoin="round" >1.0</text>
<path d="M502 553.51h-3M502 520.53h-3M502 487.56h-3M502 454.58h-3M502 421.6h-3M502 570h-2M502 537.02h-2M502 504.04h-2M502 471.07h-2M502 438.09h-2" stroke="#262626" stroke-width="1.0" fill="none"/>
<text x="497.21" y="556.51" font-size="10.3" text-anchor="end" fill="#1e1e1e" textLength="18.99" lengthAdjust="spacingAndGlyphs" stroke="#1e1e1e" stroke-width="0.18" stroke-linejoin="round" >−0.2</text>
<text x="497.21" y="523.53" font-size="10.3" text-anchor="end" fill="#1e1e1e" textLength="13.37" lengthAdjust="spacingAndGlyphs" stroke="#1e1e1e" stroke-width="0.18" stroke-linejoin="round" >0.0</text>
<text x="497.21" y="490.56" font-size="10.3" text-anchor="end" fill="#1e1e1e" textLength="13.37" lengthAdjust="spacingAndGlyphs" stroke="#1e1e1e" stroke-width="0.18" stroke-linejoin="round" >0.2</text>
<text x="497.21" y="457.58" font-size="10.3" text-anchor="end" fill="#1e1e1e" textLength="13.37" lengthAdjust="spacingAndGlyphs" stroke="#1e1e1e" stroke-width="0.18" stroke-linejoin="round" >0.4</text>
<text x="497.21" y="424.6" font-size="10.3" text-anchor="end" fill="#1e1e1e" textLength="13.37" lengthAdjust="spacingAndGlyphs" stroke="#1e1e1e" stroke-width="0.18" stroke-linejoin="round" >0.6</text>
<text x="537.7" y="601.2" font-size="12.5" text-anchor="start" fill="#1e1e1e" textLength="110.6" lengthAdjust="spacingAndGlyphs" stroke="#1e1e1e" stroke-width="0.18" stroke-linejoin="round" >Capacity (mAh cm<tspan dy="-4.8" font-size="7.8">-2</tspan><tspan dy="4.8">)</tspan></text>
<text transform="translate(474.4,528.38) rotate(-90)" font-size="12" text-anchor="start" fill="#1e1e1e" textLength="65.77" lengthAdjust="spacingAndGlyphs" stroke="#1e1e1e" stroke-width="0.18" stroke-linejoin="round" >Potential (V)</text></svg>
</body></html>
